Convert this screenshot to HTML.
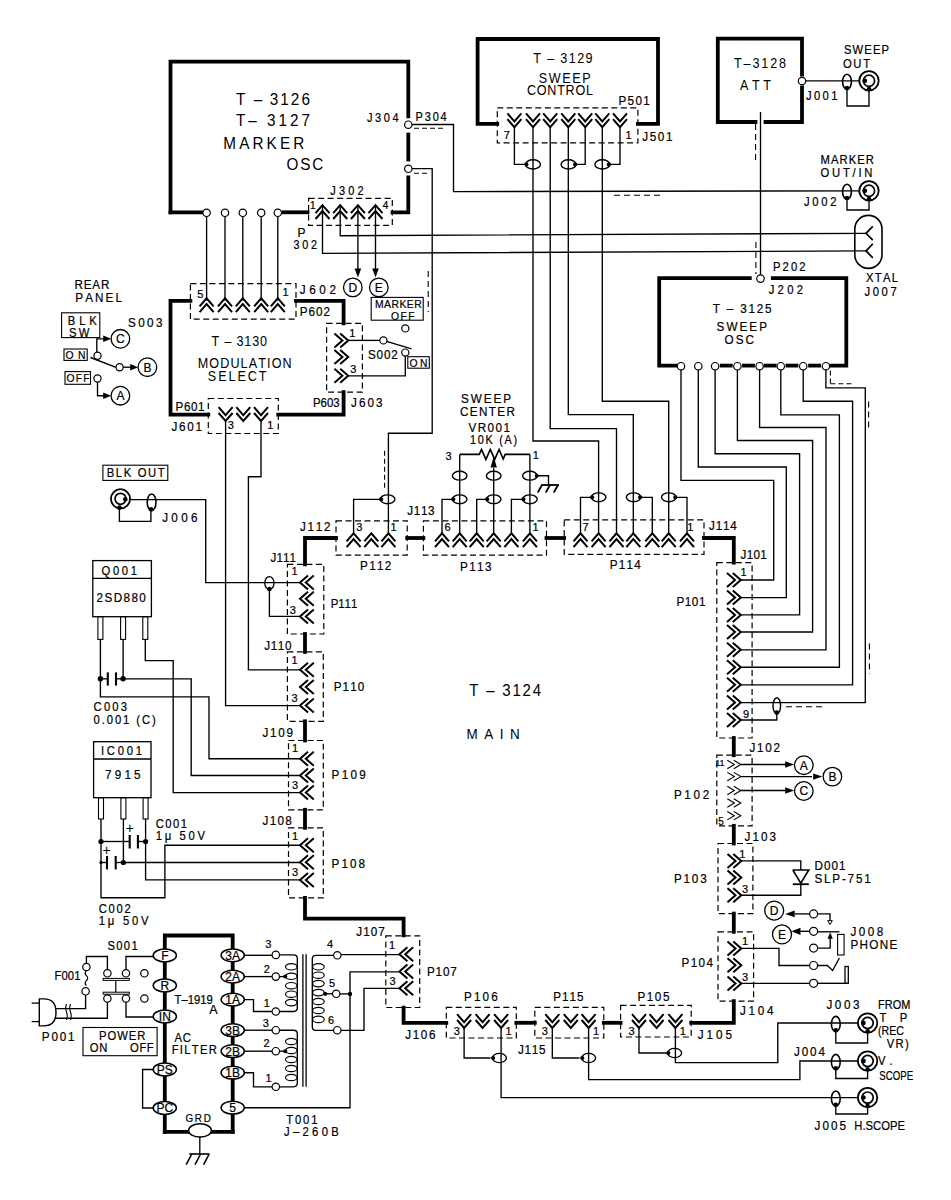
<!DOCTYPE html>
<html><head><meta charset="utf-8"><style>
html,body{margin:0;padding:0;background:#fff;}
svg{display:block;}
text{font-family:"Liberation Sans", sans-serif;fill:#000;stroke:#000;stroke-width:0.22px;}
</style></head><body>
<svg width="951" height="1200" viewBox="0 0 951 1200">
<rect x="0" y="0" width="951" height="1200" fill="#fff"/>
<polyline points="170.5,212.3 170.5,61.6 408.3,61.6 408.3,116.4" fill="none" stroke="#000" stroke-width="3.8" stroke-linecap="square" stroke-linejoin="miter"/>
<polyline points="408.3,134.5 408.3,159.5" fill="none" stroke="#000" stroke-width="3.8" stroke-linecap="square" stroke-linejoin="miter"/>
<polyline points="408.3,177.5 408.3,212.3 392.5,212.3" fill="none" stroke="#000" stroke-width="3.8" stroke-linecap="square" stroke-linejoin="miter"/>
<polyline points="170.5,212.3 202.5,212.3" fill="none" stroke="#000" stroke-width="3.8" stroke-linecap="square" stroke-linejoin="miter"/>
<polyline points="283.5,212.3 307.5,212.3" fill="none" stroke="#000" stroke-width="3.8" stroke-linecap="square" stroke-linejoin="miter"/>
<polyline points="206.6,212.3 206.6,300.5" fill="none" stroke="#000" stroke-width="1.35" stroke-linecap="butt" stroke-linejoin="miter"/>
<polyline points="225,212.3 225,300.5" fill="none" stroke="#000" stroke-width="1.35" stroke-linecap="butt" stroke-linejoin="miter"/>
<polyline points="242.8,212.3 242.8,300.5" fill="none" stroke="#000" stroke-width="1.35" stroke-linecap="butt" stroke-linejoin="miter"/>
<polyline points="261.2,212.3 261.2,300.5" fill="none" stroke="#000" stroke-width="1.35" stroke-linecap="butt" stroke-linejoin="miter"/>
<polyline points="277.8,212.3 277.8,300.5" fill="none" stroke="#000" stroke-width="1.35" stroke-linecap="butt" stroke-linejoin="miter"/>
<circle cx="206.6" cy="212.8" r="3.7" fill="#fff" stroke="#000" stroke-width="1.2"/>
<circle cx="225" cy="212.8" r="3.7" fill="#fff" stroke="#000" stroke-width="1.2"/>
<circle cx="242.8" cy="212.8" r="3.7" fill="#fff" stroke="#000" stroke-width="1.2"/>
<circle cx="261.2" cy="212.8" r="3.7" fill="#fff" stroke="#000" stroke-width="1.2"/>
<circle cx="277.8" cy="212.8" r="3.7" fill="#fff" stroke="#000" stroke-width="1.2"/>
<text transform="translate(0,104.72) scale(0.9000,1)" x="262.22 274.96 282.03 293.84 299.59 311.4 323.2 335.01" y="0" font-size="17" style="stroke:none">T – 3126</text>
<text transform="translate(0,126.12) scale(0.9000,1)" x="262.22 275.92 288.68 296.71 309.48 322.24 335.01" y="0" font-size="17" style="stroke:none">T– 3127</text>
<text transform="translate(0,148.92) scale(0.9000,1)" x="248.11 265.72 280.52 296.25 311.04 325.83" y="0" font-size="17" style="stroke:none">MARKER</text>
<text transform="translate(0,169.52) scale(0.9000,1)" x="318.44 333.69 347.05" y="0" font-size="17" style="stroke:none">OSC</text>
<text transform="translate(0,122.39) scale(0.9000,1)" x="407.78 416.73 426.37 436.01" y="0" font-size="12.2">J304</text>
<text transform="translate(0,120.79) scale(0.9000,1)" x="461.78 471.94 480.75 489.56" y="0" font-size="12.2">P304</text>
<circle cx="408.3" cy="124.7" r="3.7" fill="#fff" stroke="#000" stroke-width="1.2"/>
<circle cx="408.3" cy="168.8" r="3.7" fill="#fff" stroke="#000" stroke-width="1.2"/>
<polyline points="412,124.5 453.5,124.5 453.5,191.6 866,190.8" fill="none" stroke="#000" stroke-width="1.35" stroke-linecap="butt" stroke-linejoin="miter"/>
<polyline points="414,128.2 446,128.2" fill="none" stroke="#000" stroke-width="1.1" stroke-linecap="butt" stroke-linejoin="miter" stroke-dasharray="5 3"/>
<polyline points="412,168.6 432.2,168.6 432.2,433.2 388.4,433.2 388.4,500" fill="none" stroke="#000" stroke-width="1.35" stroke-linecap="butt" stroke-linejoin="miter"/>
<polyline points="414,173.2 430,173.2" fill="none" stroke="#000" stroke-width="1.1" stroke-linecap="butt" stroke-linejoin="miter" stroke-dasharray="5 3"/>
<polyline points="614,195.3 662,195.3" fill="none" stroke="#000" stroke-width="1.1" stroke-linecap="butt" stroke-linejoin="miter" stroke-dasharray="6 4"/>
<rect x="308.6" y="198.3" width="83.7" height="27.1" fill="none" stroke="#000" stroke-width="1.2" stroke-dasharray="6 3.5"/>
<text transform="translate(0,195.09) scale(0.9000,1)" x="367 376.66 387 397.34" y="0" font-size="12.2">J302</text>
<text x="312.8" y="209.1" font-size="10" text-anchor="middle">1</text>
<text x="385.5" y="209.1" font-size="10" text-anchor="middle">4</text>
<polyline points="315.5,213.2 322.5,205.2 329.5,213.2" fill="none" stroke="#000" stroke-width="2" stroke-linecap="butt" stroke-linejoin="miter"/>
<polyline points="315.5,219 322.5,211 329.5,219" fill="none" stroke="#000" stroke-width="2" stroke-linecap="butt" stroke-linejoin="miter"/>
<polyline points="333.2,213.2 340.2,205.2 347.2,213.2" fill="none" stroke="#000" stroke-width="2" stroke-linecap="butt" stroke-linejoin="miter"/>
<polyline points="333.2,219 340.2,211 347.2,219" fill="none" stroke="#000" stroke-width="2" stroke-linecap="butt" stroke-linejoin="miter"/>
<polyline points="350.9,213.2 357.9,205.2 364.9,213.2" fill="none" stroke="#000" stroke-width="2" stroke-linecap="butt" stroke-linejoin="miter"/>
<polyline points="350.9,219 357.9,211 364.9,219" fill="none" stroke="#000" stroke-width="2" stroke-linecap="butt" stroke-linejoin="miter"/>
<polyline points="368.5,213.2 375.5,205.2 382.5,213.2" fill="none" stroke="#000" stroke-width="2" stroke-linecap="butt" stroke-linejoin="miter"/>
<polyline points="368.5,219 375.5,211 382.5,219" fill="none" stroke="#000" stroke-width="2" stroke-linecap="butt" stroke-linejoin="miter"/>
<polyline points="322.5,205.2 322.5,253.4 866,250.9" fill="none" stroke="#000" stroke-width="1.35" stroke-linecap="butt" stroke-linejoin="miter"/>
<polyline points="340.2,205.2 340.2,235.7 866,233.3" fill="none" stroke="#000" stroke-width="1.35" stroke-linecap="butt" stroke-linejoin="miter"/>
<polyline points="357.9,205.2 357.9,270" fill="none" stroke="#000" stroke-width="1.35" stroke-linecap="butt" stroke-linejoin="miter"/>
<polyline points="375.5,205.2 375.5,270" fill="none" stroke="#000" stroke-width="1.35" stroke-linecap="butt" stroke-linejoin="miter"/>
<polygon points="357.9,277.5 354.6,268.5 361.2,268.5" fill="#000"/>
<polygon points="375.5,277.5 372.2,268.5 378.8,268.5" fill="#000"/>
<circle cx="352.8" cy="287.4" r="9.3" fill="#fff" stroke="#000" stroke-width="1.3"/>
<text x="352.8" y="291.72" font-size="12" text-anchor="middle">D</text>
<circle cx="378.8" cy="287.4" r="9.3" fill="#fff" stroke="#000" stroke-width="1.3"/>
<text x="378.8" y="291.72" font-size="12" text-anchor="middle">E</text>
<text x="301.55" y="237.32" font-size="12" text-anchor="middle">P</text>
<text transform="translate(0,249.32) scale(0.9000,1)" x="326.11 335.84 345.56" y="0" font-size="12">302</text>
<polyline points="497.3,123.8 477.6,123.8 477.6,39 658,39 658,123.8 637.9,123.8" fill="none" stroke="#000" stroke-width="3.8" stroke-linecap="square" stroke-linejoin="miter"/>
<text transform="translate(0,62.94) scale(0.9000,1)" x="592.44 602.52 607.93 617.23 622.64 631.95 641.26 650.56" y="0" font-size="14" style="stroke:none">T – 3129</text>
<text transform="translate(0,82.54) scale(0.9000,1)" x="598.56 609.69 624.71 635.85 646.99" y="0" font-size="14" style="stroke:none">SWEEP</text>
<text transform="translate(0,95.24) scale(0.9000,1)" x="585.44 596.39 608.12 619.06 628.45 639.39 651.12" y="0" font-size="14" style="stroke:none">CONTROL</text>
<text transform="translate(0,105.38) scale(0.9000,1)" x="687.22 697.37 706.08 714.78" y="0" font-size="13">P501</text>
<text transform="translate(0,140.68) scale(0.9000,1)" x="713.56 721.89 730.95 740.01" y="0" font-size="13">J501</text>
<rect x="497.3" y="107.8" width="140.6" height="35.1" fill="none" stroke="#000" stroke-width="1.2" stroke-dasharray="6 3.5"/>
<text x="506.7" y="138.76" font-size="11" text-anchor="middle">7</text>
<text x="628.6" y="138.76" font-size="11" text-anchor="middle">1</text>
<polyline points="507.4,113.4 514.4,121.4 521.4,113.4" fill="none" stroke="#000" stroke-width="2" stroke-linecap="butt" stroke-linejoin="miter"/>
<polyline points="507.4,119.2 514.4,127.2 521.4,119.2" fill="none" stroke="#000" stroke-width="2" stroke-linecap="butt" stroke-linejoin="miter"/>
<polyline points="526,113.4 533,121.4 540,113.4" fill="none" stroke="#000" stroke-width="2" stroke-linecap="butt" stroke-linejoin="miter"/>
<polyline points="526,119.2 533,127.2 540,119.2" fill="none" stroke="#000" stroke-width="2" stroke-linecap="butt" stroke-linejoin="miter"/>
<polyline points="543.2,113.4 550.2,121.4 557.2,113.4" fill="none" stroke="#000" stroke-width="2" stroke-linecap="butt" stroke-linejoin="miter"/>
<polyline points="543.2,119.2 550.2,127.2 557.2,119.2" fill="none" stroke="#000" stroke-width="2" stroke-linecap="butt" stroke-linejoin="miter"/>
<polyline points="561.3,113.4 568.3,121.4 575.3,113.4" fill="none" stroke="#000" stroke-width="2" stroke-linecap="butt" stroke-linejoin="miter"/>
<polyline points="561.3,119.2 568.3,127.2 575.3,119.2" fill="none" stroke="#000" stroke-width="2" stroke-linecap="butt" stroke-linejoin="miter"/>
<polyline points="578.2,113.4 585.2,121.4 592.2,113.4" fill="none" stroke="#000" stroke-width="2" stroke-linecap="butt" stroke-linejoin="miter"/>
<polyline points="578.2,119.2 585.2,127.2 592.2,119.2" fill="none" stroke="#000" stroke-width="2" stroke-linecap="butt" stroke-linejoin="miter"/>
<polyline points="595.3,113.4 602.3,121.4 609.3,113.4" fill="none" stroke="#000" stroke-width="2" stroke-linecap="butt" stroke-linejoin="miter"/>
<polyline points="595.3,119.2 602.3,127.2 609.3,119.2" fill="none" stroke="#000" stroke-width="2" stroke-linecap="butt" stroke-linejoin="miter"/>
<polyline points="613,113.4 620,121.4 627,113.4" fill="none" stroke="#000" stroke-width="2" stroke-linecap="butt" stroke-linejoin="miter"/>
<polyline points="613,119.2 620,127.2 627,119.2" fill="none" stroke="#000" stroke-width="2" stroke-linecap="butt" stroke-linejoin="miter"/>
<polyline points="514.4,126 514.4,164.4 527,164.4" fill="none" stroke="#000" stroke-width="1.35" stroke-linecap="butt" stroke-linejoin="miter"/>
<polyline points="585.2,126 585.2,164.4 575.5,164.4" fill="none" stroke="#000" stroke-width="1.35" stroke-linecap="butt" stroke-linejoin="miter"/>
<polyline points="620,126 620,164.4 609.5,164.4" fill="none" stroke="#000" stroke-width="1.35" stroke-linecap="butt" stroke-linejoin="miter"/>
<polyline points="533,126 533,441 598.6,441 598.6,533" fill="none" stroke="#000" stroke-width="1.35" stroke-linecap="butt" stroke-linejoin="miter"/>
<polyline points="550.2,126 550.2,428.6 616.5,428.6 616.5,533" fill="none" stroke="#000" stroke-width="1.35" stroke-linecap="butt" stroke-linejoin="miter"/>
<polyline points="568.3,126 568.3,414.6 633.3,414.6 633.3,533" fill="none" stroke="#000" stroke-width="1.35" stroke-linecap="butt" stroke-linejoin="miter"/>
<polyline points="602.3,126 602.3,401.2 668.7,401.2 668.7,533" fill="none" stroke="#000" stroke-width="1.35" stroke-linecap="butt" stroke-linejoin="miter"/>
<ellipse cx="533" cy="164.4" rx="7.4" ry="4.6" fill="none" stroke="#000" stroke-width="1.4"/>
<circle cx="526.4" cy="164.4" r="2.1" fill="#000"/>
<ellipse cx="568.5" cy="164.4" rx="7.4" ry="4.6" fill="none" stroke="#000" stroke-width="1.4"/>
<circle cx="575.1" cy="164.4" r="2.1" fill="#000"/>
<ellipse cx="602.3" cy="164.4" rx="7.4" ry="4.6" fill="none" stroke="#000" stroke-width="1.4"/>
<circle cx="608.9" cy="164.4" r="2.1" fill="#000"/>
<polyline points="755.5,122 717.8,122 717.8,38.6 802,38.6 802,74.5" fill="none" stroke="#000" stroke-width="3.8" stroke-linecap="square" stroke-linejoin="miter"/>
<polyline points="802,87.5 802,122 765.5,122" fill="none" stroke="#000" stroke-width="3.8" stroke-linecap="square" stroke-linejoin="miter"/>
<text transform="translate(0,68.44) scale(0.9000,1)" x="815.56 826.17 836.02 845.87 855.71 865.56" y="0" font-size="14" style="stroke:none">T–3128</text>
<text transform="translate(0,89.64) scale(0.9000,1)" x="822.22 835.57 848.13" y="0" font-size="14" style="stroke:none">ATT</text>
<circle cx="802" cy="81" r="3.7" fill="#fff" stroke="#000" stroke-width="1.2"/>
<polyline points="805.7,80.8 865,80.8" fill="none" stroke="#000" stroke-width="1.35" stroke-linecap="butt" stroke-linejoin="miter"/>
<circle cx="869" cy="80.8" r="9.7" fill="#fff" stroke="#000" stroke-width="1.8"/>
<circle cx="869" cy="80.8" r="5.6" fill="#fff" stroke="#000" stroke-width="1.7"/>
<circle cx="864.8" cy="80.8" r="2.4" fill="#000"/>
<ellipse cx="847" cy="81.8" rx="4.4" ry="7.6" fill="none" stroke="#000" stroke-width="1.6"/>
<polyline points="847,89.4 847,106 869,106 869,90.5" fill="none" stroke="#000" stroke-width="1.35" stroke-linecap="butt" stroke-linejoin="miter"/>
<circle cx="847" cy="88" r="2.3" fill="#000"/>
<circle cx="869" cy="89" r="2.3" fill="#000"/>
<text transform="translate(0,99.5) scale(0.9000,1)" x="895.56 904.44 914.03 923.62" y="0" font-size="12.5">J001</text>
<text transform="translate(0,54.3) scale(0.9000,1)" x="937.78 947.33 960.34 969.89 979.43" y="0" font-size="12.5">SWEEP</text>
<text transform="translate(0,67.9) scale(0.9000,1)" x="936.67 948.2 959.04" y="0" font-size="12.5">OUT</text>
<polyline points="760.5,112 760.5,274.9" fill="none" stroke="#000" stroke-width="1.35" stroke-linecap="butt" stroke-linejoin="miter"/>
<polyline points="755.6,124 755.6,160" fill="none" stroke="#000" stroke-width="1.1" stroke-linecap="butt" stroke-linejoin="miter" stroke-dasharray="6 4"/>
<polyline points="755.9,242 755.9,274" fill="none" stroke="#000" stroke-width="1.1" stroke-linecap="butt" stroke-linejoin="miter" stroke-dasharray="6 4"/>
<circle cx="869" cy="190.8" r="9.7" fill="#fff" stroke="#000" stroke-width="1.8"/>
<circle cx="869" cy="190.8" r="5.6" fill="#fff" stroke="#000" stroke-width="1.7"/>
<circle cx="864.8" cy="190.8" r="2.4" fill="#000"/>
<ellipse cx="847" cy="191.8" rx="4.4" ry="7.6" fill="none" stroke="#000" stroke-width="1.6"/>
<polyline points="847,199.4 847,210 869,210 869,200.5" fill="none" stroke="#000" stroke-width="1.35" stroke-linecap="butt" stroke-linejoin="miter"/>
<circle cx="847" cy="198" r="2.3" fill="#000"/>
<circle cx="869" cy="199" r="2.3" fill="#000"/>
<text transform="translate(0,163.5) scale(0.9000,1)" x="911.78 923.36 932.87 943.07 952.57 962.08" y="0" font-size="12.5">MARKER</text>
<text transform="translate(0,177.2) scale(0.9000,1)" x="911.78 924.54 936.6 947.28 953.79 960.3" y="0" font-size="12.5">OUT/IN</text>
<text transform="translate(0,205.7) scale(0.9000,1)" x="893.33 902.55 912.47 922.4" y="0" font-size="12.5">J002</text>
<rect x="854.8" y="215.4" width="27.2" height="53" rx="13.6" ry="13.6" fill="none" stroke="#000" stroke-width="1.6"/>
<polyline points="872.8,226.3 866,233.3 872.8,240.2" fill="none" stroke="#000" stroke-width="1.7" stroke-linecap="butt" stroke-linejoin="miter"/>
<polyline points="872.8,243.9 866,250.9 872.8,257.8" fill="none" stroke="#000" stroke-width="1.7" stroke-linecap="butt" stroke-linejoin="miter"/>
<text transform="translate(0,281.5) scale(0.9000,1)" x="962.22 972 981.07 990.84" y="0" font-size="12.5">XTAL</text>
<text transform="translate(0,295.8) scale(0.9000,1)" x="960.44 969.66 979.59 989.51" y="0" font-size="12.5">J007</text>
<polyline points="749.8,278.2 659.2,278.2 659.2,365.6 677,365.6" fill="none" stroke="#000" stroke-width="3.8" stroke-linecap="square" stroke-linejoin="miter"/>
<polyline points="772.8,278.2 846.3,278.2 846.3,365.6 829.8,365.6" fill="none" stroke="#000" stroke-width="3.8" stroke-linecap="square" stroke-linejoin="miter"/>
<polyline points="721.75,365.6 730.75,365.6" fill="none" stroke="#000" stroke-width="3.8" stroke-linecap="square" stroke-linejoin="miter"/>
<polyline points="744,365.6 753,365.6" fill="none" stroke="#000" stroke-width="3.8" stroke-linecap="square" stroke-linejoin="miter"/>
<polyline points="765.7,365.6 774.7,365.6" fill="none" stroke="#000" stroke-width="3.8" stroke-linecap="square" stroke-linejoin="miter"/>
<polyline points="787.5,365.6 796.5,365.6" fill="none" stroke="#000" stroke-width="3.8" stroke-linecap="square" stroke-linejoin="miter"/>
<polyline points="810.05,365.6 819.05,365.6" fill="none" stroke="#000" stroke-width="3.8" stroke-linecap="square" stroke-linejoin="miter"/>
<circle cx="760.5" cy="278.6" r="3.8" fill="#fff" stroke="#000" stroke-width="1.2"/>
<text transform="translate(0,313.38) scale(0.9000,1)" x="792 801.95 807.56 816.8 822.41 831.65 840.88 850.12" y="0" font-size="13">T – 3125</text>
<text transform="translate(0,330.98) scale(0.9000,1)" x="796.22 807.15 821.68 832.61 843.54" y="0" font-size="13">SWEEP</text>
<text transform="translate(0,343.68) scale(0.9000,1)" x="805 817.41 828.39" y="0" font-size="13">OSC</text>
<text transform="translate(0,271.4) scale(0.9000,1)" x="858.89 869.54 878.8 888.06" y="0" font-size="12.5">P202</text>
<text transform="translate(0,294.3) scale(0.9000,1)" x="854.11 864.03 874.66 885.28" y="0" font-size="12.5">J202</text>
<polyline points="681,369.3 681,480.3 773.7,480.3 773.7,580 740.8,580" fill="none" stroke="#000" stroke-width="1.35" stroke-linecap="butt" stroke-linejoin="miter"/>
<polyline points="698.3,369.3 698.3,467 786.3,467 786.3,597.6 740.8,597.6" fill="none" stroke="#000" stroke-width="1.35" stroke-linecap="butt" stroke-linejoin="miter"/>
<polyline points="715.1,369.3 715.1,453.7 799.6,453.7 799.6,614.9 740.8,614.9" fill="none" stroke="#000" stroke-width="1.35" stroke-linecap="butt" stroke-linejoin="miter"/>
<polyline points="737.4,369.3 737.4,440.5 812.6,440.5 812.6,632 740.8,632" fill="none" stroke="#000" stroke-width="1.35" stroke-linecap="butt" stroke-linejoin="miter"/>
<polyline points="759.6,369.3 759.6,427.5 826,427.5 826,649.8 740.8,649.8" fill="none" stroke="#000" stroke-width="1.35" stroke-linecap="butt" stroke-linejoin="miter"/>
<polyline points="780.8,369.3 780.8,414.8 839.4,414.8 839.4,667.2 740.8,667.2" fill="none" stroke="#000" stroke-width="1.35" stroke-linecap="butt" stroke-linejoin="miter"/>
<polyline points="803.2,369.3 803.2,401.2 852.6,401.2 852.6,684.8 740.8,684.8" fill="none" stroke="#000" stroke-width="1.35" stroke-linecap="butt" stroke-linejoin="miter"/>
<polyline points="825.9,369.3 825.9,387.8 865.3,387.8 865.3,702.6 740.8,702.6" fill="none" stroke="#000" stroke-width="1.35" stroke-linecap="butt" stroke-linejoin="miter"/>
<circle cx="681" cy="366.2" r="3.7" fill="#fff" stroke="#000" stroke-width="1.2"/>
<circle cx="698.3" cy="366.2" r="3.7" fill="#fff" stroke="#000" stroke-width="1.2"/>
<circle cx="715.1" cy="366.2" r="3.7" fill="#fff" stroke="#000" stroke-width="1.2"/>
<circle cx="737.4" cy="366.2" r="3.7" fill="#fff" stroke="#000" stroke-width="1.2"/>
<circle cx="759.6" cy="366.2" r="3.7" fill="#fff" stroke="#000" stroke-width="1.2"/>
<circle cx="780.8" cy="366.2" r="3.7" fill="#fff" stroke="#000" stroke-width="1.2"/>
<circle cx="803.2" cy="366.2" r="3.7" fill="#fff" stroke="#000" stroke-width="1.2"/>
<circle cx="825.9" cy="366.2" r="3.7" fill="#fff" stroke="#000" stroke-width="1.2"/>
<polyline points="830.4,370.5 830.4,383.8" fill="none" stroke="#000" stroke-width="1.1" stroke-linecap="butt" stroke-linejoin="miter" stroke-dasharray="5 3"/>
<polyline points="830.4,383.8 852.3,383.8" fill="none" stroke="#000" stroke-width="1.1" stroke-linecap="butt" stroke-linejoin="miter" stroke-dasharray="5 3"/>
<polyline points="868.6,401.5 868.6,431" fill="none" stroke="#000" stroke-width="1.1" stroke-linecap="butt" stroke-linejoin="miter" stroke-dasharray="6 4"/>
<polyline points="869.4,643.5 869.4,674" fill="none" stroke="#000" stroke-width="1.1" stroke-linecap="butt" stroke-linejoin="miter" stroke-dasharray="6 4"/>
<polyline points="786,706.8 822,706.8" fill="none" stroke="#000" stroke-width="1.1" stroke-linecap="butt" stroke-linejoin="miter" stroke-dasharray="6 4"/>
<polyline points="190.4,300.9 170.5,300.9 170.5,414.6 208.3,414.6" fill="none" stroke="#000" stroke-width="3.8" stroke-linecap="square" stroke-linejoin="miter"/>
<polyline points="278.3,414.6 343.6,414.6 343.6,392.2" fill="none" stroke="#000" stroke-width="3.8" stroke-linecap="square" stroke-linejoin="miter"/>
<polyline points="296,300.9 343.6,300.9 343.6,323.3" fill="none" stroke="#000" stroke-width="3.8" stroke-linecap="square" stroke-linejoin="miter"/>
<rect x="190.4" y="283.6" width="105.6" height="35.6" fill="none" stroke="#000" stroke-width="1.2" stroke-dasharray="6 3.5"/>
<polyline points="199.6,306.3 206.6,298.3 213.6,306.3" fill="none" stroke="#000" stroke-width="2" stroke-linecap="butt" stroke-linejoin="miter"/>
<polyline points="199.6,312.1 206.6,304.1 213.6,312.1" fill="none" stroke="#000" stroke-width="2" stroke-linecap="butt" stroke-linejoin="miter"/>
<polyline points="218,306.3 225,298.3 232,306.3" fill="none" stroke="#000" stroke-width="2" stroke-linecap="butt" stroke-linejoin="miter"/>
<polyline points="218,312.1 225,304.1 232,312.1" fill="none" stroke="#000" stroke-width="2" stroke-linecap="butt" stroke-linejoin="miter"/>
<polyline points="235.8,306.3 242.8,298.3 249.8,306.3" fill="none" stroke="#000" stroke-width="2" stroke-linecap="butt" stroke-linejoin="miter"/>
<polyline points="235.8,312.1 242.8,304.1 249.8,312.1" fill="none" stroke="#000" stroke-width="2" stroke-linecap="butt" stroke-linejoin="miter"/>
<polyline points="254.2,306.3 261.2,298.3 268.2,306.3" fill="none" stroke="#000" stroke-width="2" stroke-linecap="butt" stroke-linejoin="miter"/>
<polyline points="254.2,312.1 261.2,304.1 268.2,312.1" fill="none" stroke="#000" stroke-width="2" stroke-linecap="butt" stroke-linejoin="miter"/>
<polyline points="270.8,306.3 277.8,298.3 284.8,306.3" fill="none" stroke="#000" stroke-width="2" stroke-linecap="butt" stroke-linejoin="miter"/>
<polyline points="270.8,312.1 277.8,304.1 284.8,312.1" fill="none" stroke="#000" stroke-width="2" stroke-linecap="butt" stroke-linejoin="miter"/>
<text x="200.2" y="297.56" font-size="11" text-anchor="middle">5</text>
<text x="285.6" y="296.46" font-size="11" text-anchor="middle">1</text>
<text transform="translate(0,294.48) scale(0.9000,1)" x="333.11 343.63 354.87 366.12" y="0" font-size="13">J602</text>
<text transform="translate(0,315.68) scale(0.9000,1)" x="333.11 342.85 351.15 359.45" y="0" font-size="13">P602</text>
<text transform="translate(0,346.34) scale(0.9000,1)" x="235.11 244.56 249.36 258.04 262.83 271.52 280.21 288.9" y="0" font-size="14" style="stroke:none">T – 3130</text>
<text transform="translate(0,367.84) scale(0.9000,1)" x="219.67 232.56 244.69 256.03 267.37 276.39 286.96 296.75 301.87 314" y="0" font-size="14" style="stroke:none">MODULATION</text>
<text transform="translate(0,381.04) scale(0.9000,1)" x="230.89 242.38 253.87 263.81 275.31 287.57" y="0" font-size="14" style="stroke:none">SELECT</text>
<text transform="translate(0,410.68) scale(0.9000,1)" x="195 204.33 212.23 220.12" y="0" font-size="13">P601</text>
<text transform="translate(0,430.98) scale(0.9000,1)" x="190.44 198.89 208.06 217.23" y="0" font-size="13">J601</text>
<rect x="208.3" y="398.5" width="70" height="35" fill="none" stroke="#000" stroke-width="1.2" stroke-dasharray="6 3.5"/>
<polyline points="218.6,407.2 225.6,415.2 232.6,407.2" fill="none" stroke="#000" stroke-width="2" stroke-linecap="butt" stroke-linejoin="miter"/>
<polyline points="218.6,413 225.6,421 232.6,413" fill="none" stroke="#000" stroke-width="2" stroke-linecap="butt" stroke-linejoin="miter"/>
<polyline points="236.3,407.2 243.3,415.2 250.3,407.2" fill="none" stroke="#000" stroke-width="2" stroke-linecap="butt" stroke-linejoin="miter"/>
<polyline points="236.3,413 243.3,421 250.3,413" fill="none" stroke="#000" stroke-width="2" stroke-linecap="butt" stroke-linejoin="miter"/>
<polyline points="254,407.2 261,415.2 268,407.2" fill="none" stroke="#000" stroke-width="2" stroke-linecap="butt" stroke-linejoin="miter"/>
<polyline points="254,413 261,421 268,413" fill="none" stroke="#000" stroke-width="2" stroke-linecap="butt" stroke-linejoin="miter"/>
<text x="230.9" y="429.36" font-size="11" text-anchor="middle">3</text>
<text x="270.2" y="429.36" font-size="11" text-anchor="middle">1</text>
<polyline points="225.6,420 225.6,705.6 300,705.6" fill="none" stroke="#000" stroke-width="1.35" stroke-linecap="butt" stroke-linejoin="miter"/>
<polyline points="261,420 261,476.7 248.4,476.7 248.4,669.8 300,669.8" fill="none" stroke="#000" stroke-width="1.35" stroke-linecap="butt" stroke-linejoin="miter"/>
<rect x="326.6" y="323.3" width="35.8" height="68.9" fill="none" stroke="#000" stroke-width="1.2" stroke-dasharray="6 3.5"/>
<polyline points="340.2,333.4 348.2,340.4 340.2,347.4" fill="none" stroke="#000" stroke-width="2" stroke-linecap="butt" stroke-linejoin="miter"/>
<polyline points="334.4,333.4 342.4,340.4 334.4,347.4" fill="none" stroke="#000" stroke-width="2" stroke-linecap="butt" stroke-linejoin="miter"/>
<polyline points="340.2,350 348.2,357 340.2,364" fill="none" stroke="#000" stroke-width="2" stroke-linecap="butt" stroke-linejoin="miter"/>
<polyline points="334.4,350 342.4,357 334.4,364" fill="none" stroke="#000" stroke-width="2" stroke-linecap="butt" stroke-linejoin="miter"/>
<polyline points="340.2,368.8 348.2,375.8 340.2,382.8" fill="none" stroke="#000" stroke-width="2" stroke-linecap="butt" stroke-linejoin="miter"/>
<polyline points="334.4,368.8 342.4,375.8 334.4,382.8" fill="none" stroke="#000" stroke-width="2" stroke-linecap="butt" stroke-linejoin="miter"/>
<text x="352.4" y="336.66" font-size="11" text-anchor="middle">1</text>
<text x="353.2" y="373.46" font-size="11" text-anchor="middle">3</text>
<text transform="translate(0,406.68) scale(0.8798,1)" x="355.75 364.42 371.65 378.88" y="0" font-size="13">P603</text>
<text transform="translate(0,406.68) scale(0.9000,1)" x="390 398.81 408.35 417.9" y="0" font-size="13">J603</text>
<polyline points="348.2,340.4 380,340.4" fill="none" stroke="#000" stroke-width="1.35" stroke-linecap="butt" stroke-linejoin="miter"/>
<circle cx="383.4" cy="340.4" r="3.6" fill="#fff" stroke="#000" stroke-width="1.2"/>
<polyline points="386.5,341.3 411.6,348.8" fill="none" stroke="#000" stroke-width="1.4" stroke-linecap="butt" stroke-linejoin="miter"/>
<circle cx="405.3" cy="328.4" r="3.6" fill="#fff" stroke="#000" stroke-width="1.2"/>
<circle cx="405.3" cy="352.6" r="3.6" fill="#fff" stroke="#000" stroke-width="1.2"/>
<polyline points="405.3,356.2 405.3,375.8 348.2,375.8" fill="none" stroke="#000" stroke-width="1.35" stroke-linecap="butt" stroke-linejoin="miter"/>
<text transform="translate(0,358.68) scale(0.9000,1)" x="408.89 418.44 426.56 434.67" y="0" font-size="13">S002</text>
<rect x="407.8" y="356.7" width="21.5" height="11.5" fill="none" stroke="#000" stroke-width="1.1"/>
<text transform="translate(0,366.54) scale(0.9000,1)" x="455 466.69" y="0" font-size="11.5">ON</text>
<rect x="371.2" y="297.4" width="52" height="22.8" fill="none" stroke="#000" stroke-width="1.1"/>
<text transform="translate(0,307.84) scale(0.9000,1)" x="416.67 426.78 434.99 443.83 452.04 460.25" y="0" font-size="11.5">MARKER</text>
<text transform="translate(0,319.64) scale(0.9000,1)" x="434.44 444.95 453.54" y="0" font-size="11.5">OFF</text>
<polyline points="428.2,271 428.2,312" fill="none" stroke="#000" stroke-width="1.1" stroke-linecap="butt" stroke-linejoin="miter" stroke-dasharray="6 4"/>
<text transform="translate(0,288.68) scale(0.9000,1)" x="82.89 93.13 102.64 112.16" y="0" font-size="13">REAR</text>
<text transform="translate(0,301.68) scale(0.9000,1)" x="83.67 94.66 105.64 117.35 128.34" y="0" font-size="13">PANEL</text>
<rect x="61.6" y="312.8" width="38.2" height="24.8" fill="none" stroke="#000" stroke-width="1.1"/>
<text transform="translate(0,324.7) scale(0.9000,1)" x="75.33 87.97 99.21" y="0" font-size="12.5">BLK</text>
<text transform="translate(0,337.1) scale(0.9000,1)" x="76.67 87.63" y="0" font-size="12.5">SW</text>
<text transform="translate(0,327.08) scale(0.9000,1)" x="142.22 153.52 163.37 173.23" y="0" font-size="13">S003</text>
<rect x="64" y="349" width="23.2" height="11.4" fill="none" stroke="#000" stroke-width="1.1"/>
<text transform="translate(0,358.84) scale(0.9000,1)" x="72.78 86.58" y="0" font-size="11.5">ON</text>
<rect x="65" y="371.6" width="25.5" height="12.7" fill="none" stroke="#000" stroke-width="1.1"/>
<text transform="translate(0,382.14) scale(0.9000,1)" x="73.89 84.12 92.43" y="0" font-size="11.5">OFF</text>
<polyline points="96.8,352.2 96.8,338.8 104,338.8" fill="none" stroke="#000" stroke-width="1.35" stroke-linecap="butt" stroke-linejoin="miter"/>
<polygon points="111.2,338.8 103.2,335.6 103.2,342" fill="#000"/>
<circle cx="120.4" cy="338.8" r="9.3" fill="#fff" stroke="#000" stroke-width="1.3"/>
<text x="120.4" y="343.12" font-size="12" text-anchor="middle">C</text>
<circle cx="97.5" cy="355.7" r="3.6" fill="#fff" stroke="#000" stroke-width="1.2"/>
<polyline points="90.5,357.5 116,367.3" fill="none" stroke="#000" stroke-width="1.4" stroke-linecap="butt" stroke-linejoin="miter"/>
<circle cx="119.6" cy="367.2" r="3.6" fill="#fff" stroke="#000" stroke-width="1.2"/>
<polyline points="123,367.2 131,367.2" fill="none" stroke="#000" stroke-width="1.35" stroke-linecap="butt" stroke-linejoin="miter"/>
<polygon points="138.2,367.2 130.2,364 130.2,370.4" fill="#000"/>
<circle cx="147.4" cy="367.2" r="9.3" fill="#fff" stroke="#000" stroke-width="1.3"/>
<text x="147.4" y="371.52" font-size="12" text-anchor="middle">B</text>
<circle cx="97.5" cy="378.5" r="3.6" fill="#fff" stroke="#000" stroke-width="1.2"/>
<polyline points="97.5,382 97.5,395.7 104,395.7" fill="none" stroke="#000" stroke-width="1.35" stroke-linecap="butt" stroke-linejoin="miter"/>
<polygon points="111.2,395.7 103.2,392.5 103.2,398.9" fill="#000"/>
<circle cx="120.4" cy="395.7" r="9.3" fill="#fff" stroke="#000" stroke-width="1.3"/>
<text x="120.4" y="400.02" font-size="12" text-anchor="middle">A</text>
<text transform="translate(0,403.28) scale(0.9000,1)" x="512.22 523.04 537.46 548.28 559.1" y="0" font-size="13">SWEEP</text>
<text transform="translate(0,416.48) scale(0.9000,1)" x="511.11 522.03 532.23 543.15 552.63 562.83" y="0" font-size="13">CENTER</text>
<text transform="translate(0,431.68) scale(0.9000,1)" x="520.56 530.82 541.8 550.63 559.45" y="0" font-size="13">VR001</text>
<text transform="translate(0,443.82) scale(0.9000,1)" x="522.22 530.82 539.42 549.35 554.61 560.53 570.45" y="0" font-size="12">10K (A)</text>
<text x="448.6" y="460.36" font-size="11" text-anchor="middle">3</text>
<text x="535.8" y="459.36" font-size="11" text-anchor="middle">1</text>
<polyline points="459.7,454.4 479.3,454.4 481.5,449.4 485.9,459.4 490.3,449.4 494.7,459.4 499.1,449.4 503.2,459 505.2,454.4 529.9,454.4" fill="none" stroke="#000" stroke-width="1.6" stroke-linecap="butt" stroke-linejoin="miter"/>
<polygon points="493.7,456.5 490.5,467.5 496.9,467.5" fill="#000"/>
<polyline points="305,564.4 305,538 336,538" fill="none" stroke="#000" stroke-width="3.8" stroke-linecap="square" stroke-linejoin="miter"/>
<polyline points="407.2,538 423.4,538" fill="none" stroke="#000" stroke-width="3.8" stroke-linecap="square" stroke-linejoin="miter"/>
<polyline points="546.5,538 564.2,538" fill="none" stroke="#000" stroke-width="3.8" stroke-linecap="square" stroke-linejoin="miter"/>
<polyline points="704,538 733.8,538 733.8,562.7" fill="none" stroke="#000" stroke-width="3.8" stroke-linecap="square" stroke-linejoin="miter"/>
<polyline points="733.8,738 733.8,755.2" fill="none" stroke="#000" stroke-width="3.8" stroke-linecap="square" stroke-linejoin="miter"/>
<polyline points="733.8,825.8 733.8,843.5" fill="none" stroke="#000" stroke-width="3.8" stroke-linecap="square" stroke-linejoin="miter"/>
<polyline points="733.8,913.6 733.8,931.8" fill="none" stroke="#000" stroke-width="3.8" stroke-linecap="square" stroke-linejoin="miter"/>
<polyline points="733.8,1001.2 733.8,1022.8 691.2,1022.8" fill="none" stroke="#000" stroke-width="3.8" stroke-linecap="square" stroke-linejoin="miter"/>
<polyline points="603.8,1022.8 620.6,1022.8" fill="none" stroke="#000" stroke-width="3.8" stroke-linecap="square" stroke-linejoin="miter"/>
<polyline points="516.3,1022.8 534.8,1022.8" fill="none" stroke="#000" stroke-width="3.8" stroke-linecap="square" stroke-linejoin="miter"/>
<polyline points="446.3,1022.8 403.6,1022.8 403.6,1007.7" fill="none" stroke="#000" stroke-width="3.8" stroke-linecap="square" stroke-linejoin="miter"/>
<polyline points="403.6,935.3 403.6,918.6 305,918.6 305,897.8" fill="none" stroke="#000" stroke-width="3.8" stroke-linecap="square" stroke-linejoin="miter"/>
<polyline points="305,809.8 305,827.8" fill="none" stroke="#000" stroke-width="3.8" stroke-linecap="square" stroke-linejoin="miter"/>
<polyline points="305,721.3 305,740.5" fill="none" stroke="#000" stroke-width="3.8" stroke-linecap="square" stroke-linejoin="miter"/>
<polyline points="305,634 305,651.9" fill="none" stroke="#000" stroke-width="3.8" stroke-linecap="square" stroke-linejoin="miter"/>
<text transform="translate(0,696.01) scale(0.9000,1)" x="521.44 533.61 540.22 551.47 558.08 569.33 580.59 591.84" y="0" font-size="16.7" style="stroke:none">T – 3124</text>
<text transform="translate(0,739.4) scale(0.9000,1)" x="518.33 538.03 555.24 566.61" y="0" font-size="15" style="stroke:none">MAIN</text>
<rect x="336" y="520.8" width="71.2" height="34.4" fill="none" stroke="#000" stroke-width="1.2" stroke-dasharray="6 3.5"/>
<rect x="423.4" y="520.8" width="123.1" height="34.4" fill="none" stroke="#000" stroke-width="1.2" stroke-dasharray="6 3.5"/>
<rect x="564.2" y="519.8" width="139.8" height="34.5" fill="none" stroke="#000" stroke-width="1.2" stroke-dasharray="6 3.5"/>
<polyline points="346.6,541.3 353.6,533.3 360.6,541.3" fill="none" stroke="#000" stroke-width="2" stroke-linecap="butt" stroke-linejoin="miter"/>
<polyline points="346.6,547.1 353.6,539.1 360.6,547.1" fill="none" stroke="#000" stroke-width="2" stroke-linecap="butt" stroke-linejoin="miter"/>
<polyline points="364.3,541.3 371.3,533.3 378.3,541.3" fill="none" stroke="#000" stroke-width="2" stroke-linecap="butt" stroke-linejoin="miter"/>
<polyline points="364.3,547.1 371.3,539.1 378.3,547.1" fill="none" stroke="#000" stroke-width="2" stroke-linecap="butt" stroke-linejoin="miter"/>
<polyline points="381.4,541.3 388.4,533.3 395.4,541.3" fill="none" stroke="#000" stroke-width="2" stroke-linecap="butt" stroke-linejoin="miter"/>
<polyline points="381.4,547.1 388.4,539.1 395.4,547.1" fill="none" stroke="#000" stroke-width="2" stroke-linecap="butt" stroke-linejoin="miter"/>
<polyline points="435,541.3 442,533.3 449,541.3" fill="none" stroke="#000" stroke-width="2" stroke-linecap="butt" stroke-linejoin="miter"/>
<polyline points="435,547.1 442,539.1 449,547.1" fill="none" stroke="#000" stroke-width="2" stroke-linecap="butt" stroke-linejoin="miter"/>
<polyline points="452.7,541.3 459.7,533.3 466.7,541.3" fill="none" stroke="#000" stroke-width="2" stroke-linecap="butt" stroke-linejoin="miter"/>
<polyline points="452.7,547.1 459.7,539.1 466.7,547.1" fill="none" stroke="#000" stroke-width="2" stroke-linecap="butt" stroke-linejoin="miter"/>
<polyline points="469.7,541.3 476.7,533.3 483.7,541.3" fill="none" stroke="#000" stroke-width="2" stroke-linecap="butt" stroke-linejoin="miter"/>
<polyline points="469.7,547.1 476.7,539.1 483.7,547.1" fill="none" stroke="#000" stroke-width="2" stroke-linecap="butt" stroke-linejoin="miter"/>
<polyline points="486.7,541.3 493.7,533.3 500.7,541.3" fill="none" stroke="#000" stroke-width="2" stroke-linecap="butt" stroke-linejoin="miter"/>
<polyline points="486.7,547.1 493.7,539.1 500.7,547.1" fill="none" stroke="#000" stroke-width="2" stroke-linecap="butt" stroke-linejoin="miter"/>
<polyline points="504.4,541.3 511.4,533.3 518.4,541.3" fill="none" stroke="#000" stroke-width="2" stroke-linecap="butt" stroke-linejoin="miter"/>
<polyline points="504.4,547.1 511.4,539.1 518.4,547.1" fill="none" stroke="#000" stroke-width="2" stroke-linecap="butt" stroke-linejoin="miter"/>
<polyline points="522.9,541.3 529.9,533.3 536.9,541.3" fill="none" stroke="#000" stroke-width="2" stroke-linecap="butt" stroke-linejoin="miter"/>
<polyline points="522.9,547.1 529.9,539.1 536.9,547.1" fill="none" stroke="#000" stroke-width="2" stroke-linecap="butt" stroke-linejoin="miter"/>
<polyline points="573.5,541.3 580.5,533.3 587.5,541.3" fill="none" stroke="#000" stroke-width="2" stroke-linecap="butt" stroke-linejoin="miter"/>
<polyline points="573.5,547.1 580.5,539.1 587.5,547.1" fill="none" stroke="#000" stroke-width="2" stroke-linecap="butt" stroke-linejoin="miter"/>
<polyline points="591.6,541.3 598.6,533.3 605.6,541.3" fill="none" stroke="#000" stroke-width="2" stroke-linecap="butt" stroke-linejoin="miter"/>
<polyline points="591.6,547.1 598.6,539.1 605.6,547.1" fill="none" stroke="#000" stroke-width="2" stroke-linecap="butt" stroke-linejoin="miter"/>
<polyline points="609.5,541.3 616.5,533.3 623.5,541.3" fill="none" stroke="#000" stroke-width="2" stroke-linecap="butt" stroke-linejoin="miter"/>
<polyline points="609.5,547.1 616.5,539.1 623.5,547.1" fill="none" stroke="#000" stroke-width="2" stroke-linecap="butt" stroke-linejoin="miter"/>
<polyline points="626.3,541.3 633.3,533.3 640.3,541.3" fill="none" stroke="#000" stroke-width="2" stroke-linecap="butt" stroke-linejoin="miter"/>
<polyline points="626.3,547.1 633.3,539.1 640.3,547.1" fill="none" stroke="#000" stroke-width="2" stroke-linecap="butt" stroke-linejoin="miter"/>
<polyline points="645.3,541.3 652.3,533.3 659.3,541.3" fill="none" stroke="#000" stroke-width="2" stroke-linecap="butt" stroke-linejoin="miter"/>
<polyline points="645.3,547.1 652.3,539.1 659.3,547.1" fill="none" stroke="#000" stroke-width="2" stroke-linecap="butt" stroke-linejoin="miter"/>
<polyline points="661.7,541.3 668.7,533.3 675.7,541.3" fill="none" stroke="#000" stroke-width="2" stroke-linecap="butt" stroke-linejoin="miter"/>
<polyline points="661.7,547.1 668.7,539.1 675.7,547.1" fill="none" stroke="#000" stroke-width="2" stroke-linecap="butt" stroke-linejoin="miter"/>
<polyline points="680,541.3 687,533.3 694,541.3" fill="none" stroke="#000" stroke-width="2" stroke-linecap="butt" stroke-linejoin="miter"/>
<polyline points="680,547.1 687,539.1 694,547.1" fill="none" stroke="#000" stroke-width="2" stroke-linecap="butt" stroke-linejoin="miter"/>
<text transform="translate(0,530.98) scale(0.9000,1)" x="333.33 341.77 350.95 360.12" y="0" font-size="13">J112</text>
<text x="359.2" y="530.56" font-size="11" text-anchor="middle">3</text>
<text x="393.6" y="530.56" font-size="11" text-anchor="middle">1</text>
<text transform="translate(0,570.18) scale(0.9000,1)" x="400 410.15 418.86 427.56" y="0" font-size="13">P112</text>
<text transform="translate(0,515.08) scale(0.9000,1)" x="452.44 459.7 467.69 475.67" y="0" font-size="13">J113</text>
<text x="447.5" y="530.56" font-size="11" text-anchor="middle">6</text>
<text x="535.5" y="530.56" font-size="11" text-anchor="middle">1</text>
<text transform="translate(0,570.68) scale(0.9000,1)" x="511.11 521.3 530.04 538.78" y="0" font-size="13">P113</text>
<text x="585.6" y="531.16" font-size="11" text-anchor="middle">7</text>
<text x="690.2" y="531.16" font-size="11" text-anchor="middle">1</text>
<text transform="translate(0,569.38) scale(0.9000,1)" x="677.56 687.56 696.11 704.67" y="0" font-size="13">P114</text>
<text transform="translate(0,530.08) scale(0.9000,1)" x="787.78 795.15 803.24 811.34" y="0" font-size="13">J114</text>
<text transform="translate(0,559.08) scale(0.9000,1)" x="822.89 829.7 837.24 844.78" y="0" font-size="13">J101</text>
<polyline points="353.6,533.3 353.6,499.3 380.5,499.3" fill="none" stroke="#000" stroke-width="1.35" stroke-linecap="butt" stroke-linejoin="miter"/>
<polyline points="384.6,450.7 384.6,489" fill="none" stroke="#000" stroke-width="1.1" stroke-linecap="butt" stroke-linejoin="miter" stroke-dasharray="5 3"/>
<polyline points="388.4,500 388.4,533.3" fill="none" stroke="#000" stroke-width="1.35" stroke-linecap="butt" stroke-linejoin="miter"/>
<polyline points="442,533.3 442,499.3 452.5,499.3" fill="none" stroke="#000" stroke-width="1.35" stroke-linecap="butt" stroke-linejoin="miter"/>
<polyline points="476.7,533.3 476.7,499.3 486.6,499.3" fill="none" stroke="#000" stroke-width="1.35" stroke-linecap="butt" stroke-linejoin="miter"/>
<polyline points="511.4,533.3 511.4,499.3 522.5,499.3" fill="none" stroke="#000" stroke-width="1.35" stroke-linecap="butt" stroke-linejoin="miter"/>
<polyline points="459.7,533.3 459.7,454.4" fill="none" stroke="#000" stroke-width="1.35" stroke-linecap="butt" stroke-linejoin="miter"/>
<polyline points="493.7,533.3 493.7,468" fill="none" stroke="#000" stroke-width="1.35" stroke-linecap="butt" stroke-linejoin="miter"/>
<polyline points="529.9,533.3 529.9,454.4" fill="none" stroke="#000" stroke-width="1.35" stroke-linecap="butt" stroke-linejoin="miter"/>
<ellipse cx="459.7" cy="475.7" rx="7.3" ry="4.4" fill="none" stroke="#000" stroke-width="1.4"/>
<ellipse cx="493.7" cy="475.7" rx="7.3" ry="4.4" fill="none" stroke="#000" stroke-width="1.4"/>
<ellipse cx="529.9" cy="475.7" rx="7.3" ry="4.4" fill="none" stroke="#000" stroke-width="1.4"/>
<polyline points="536.5,475.7 548.5,475.7 548.5,485" fill="none" stroke="#000" stroke-width="1.35" stroke-linecap="butt" stroke-linejoin="miter"/>
<polyline points="541,485 559,485" fill="none" stroke="#000" stroke-width="1.8" stroke-linecap="butt" stroke-linejoin="miter"/>
<polyline points="542,485 537.8,492.5" fill="none" stroke="#000" stroke-width="1.8" stroke-linecap="butt" stroke-linejoin="miter"/>
<polyline points="550,485 545.8,492.5" fill="none" stroke="#000" stroke-width="1.8" stroke-linecap="butt" stroke-linejoin="miter"/>
<polyline points="558,485 553.8,492.5" fill="none" stroke="#000" stroke-width="1.8" stroke-linecap="butt" stroke-linejoin="miter"/>
<circle cx="536.7" cy="475.7" r="2" fill="#000"/>
<polyline points="580.5,533.3 580.5,497.3 592.5,497.3" fill="none" stroke="#000" stroke-width="1.35" stroke-linecap="butt" stroke-linejoin="miter"/>
<polyline points="652.3,533.3 652.3,497.3 640.3,497.3" fill="none" stroke="#000" stroke-width="1.35" stroke-linecap="butt" stroke-linejoin="miter"/>
<polyline points="687,533.3 687,497.3 676.3,497.3" fill="none" stroke="#000" stroke-width="1.35" stroke-linecap="butt" stroke-linejoin="miter"/>
<ellipse cx="387.6" cy="499.3" rx="7.3" ry="4.4" fill="none" stroke="#000" stroke-width="1.4"/>
<circle cx="381.1" cy="499.3" r="2.1" fill="#000"/>
<ellipse cx="459.7" cy="499.3" rx="7.3" ry="4.4" fill="none" stroke="#000" stroke-width="1.4"/>
<circle cx="453.2" cy="499.3" r="2.1" fill="#000"/>
<ellipse cx="493.7" cy="499.3" rx="7.3" ry="4.4" fill="none" stroke="#000" stroke-width="1.4"/>
<circle cx="487.2" cy="499.3" r="2.1" fill="#000"/>
<ellipse cx="529.9" cy="499.3" rx="7.3" ry="4.4" fill="none" stroke="#000" stroke-width="1.4"/>
<circle cx="523.4" cy="499.3" r="2.1" fill="#000"/>
<ellipse cx="598.6" cy="497.3" rx="7.3" ry="4.4" fill="none" stroke="#000" stroke-width="1.4"/>
<circle cx="592.1" cy="497.3" r="2.1" fill="#000"/>
<ellipse cx="633.6" cy="497.3" rx="7.3" ry="4.4" fill="none" stroke="#000" stroke-width="1.4"/>
<circle cx="640.1" cy="497.3" r="2.1" fill="#000"/>
<ellipse cx="668.8" cy="497.3" rx="7.3" ry="4.4" fill="none" stroke="#000" stroke-width="1.4"/>
<circle cx="675.3" cy="497.3" r="2.1" fill="#000"/>
<rect x="716.8" y="562.7" width="35.3" height="175.3" fill="none" stroke="#000" stroke-width="1.2" stroke-dasharray="6 3.5"/>
<polyline points="732.8,573 740.8,580 732.8,587" fill="none" stroke="#000" stroke-width="2" stroke-linecap="butt" stroke-linejoin="miter"/>
<polyline points="727,573 735,580 727,587" fill="none" stroke="#000" stroke-width="2" stroke-linecap="butt" stroke-linejoin="miter"/>
<polyline points="732.8,590.6 740.8,597.6 732.8,604.6" fill="none" stroke="#000" stroke-width="2" stroke-linecap="butt" stroke-linejoin="miter"/>
<polyline points="727,590.6 735,597.6 727,604.6" fill="none" stroke="#000" stroke-width="2" stroke-linecap="butt" stroke-linejoin="miter"/>
<polyline points="732.8,607.9 740.8,614.9 732.8,621.9" fill="none" stroke="#000" stroke-width="2" stroke-linecap="butt" stroke-linejoin="miter"/>
<polyline points="727,607.9 735,614.9 727,621.9" fill="none" stroke="#000" stroke-width="2" stroke-linecap="butt" stroke-linejoin="miter"/>
<polyline points="732.8,625 740.8,632 732.8,639" fill="none" stroke="#000" stroke-width="2" stroke-linecap="butt" stroke-linejoin="miter"/>
<polyline points="727,625 735,632 727,639" fill="none" stroke="#000" stroke-width="2" stroke-linecap="butt" stroke-linejoin="miter"/>
<polyline points="732.8,642.8 740.8,649.8 732.8,656.8" fill="none" stroke="#000" stroke-width="2" stroke-linecap="butt" stroke-linejoin="miter"/>
<polyline points="727,642.8 735,649.8 727,656.8" fill="none" stroke="#000" stroke-width="2" stroke-linecap="butt" stroke-linejoin="miter"/>
<polyline points="732.8,660.2 740.8,667.2 732.8,674.2" fill="none" stroke="#000" stroke-width="2" stroke-linecap="butt" stroke-linejoin="miter"/>
<polyline points="727,660.2 735,667.2 727,674.2" fill="none" stroke="#000" stroke-width="2" stroke-linecap="butt" stroke-linejoin="miter"/>
<polyline points="732.8,677.8 740.8,684.8 732.8,691.8" fill="none" stroke="#000" stroke-width="2" stroke-linecap="butt" stroke-linejoin="miter"/>
<polyline points="727,677.8 735,684.8 727,691.8" fill="none" stroke="#000" stroke-width="2" stroke-linecap="butt" stroke-linejoin="miter"/>
<polyline points="732.8,695.6 740.8,702.6 732.8,709.6" fill="none" stroke="#000" stroke-width="2" stroke-linecap="butt" stroke-linejoin="miter"/>
<polyline points="727,695.6 735,702.6 727,709.6" fill="none" stroke="#000" stroke-width="2" stroke-linecap="butt" stroke-linejoin="miter"/>
<polyline points="732.8,713 740.8,720 732.8,727" fill="none" stroke="#000" stroke-width="2" stroke-linecap="butt" stroke-linejoin="miter"/>
<polyline points="727,713 735,720 727,727" fill="none" stroke="#000" stroke-width="2" stroke-linecap="butt" stroke-linejoin="miter"/>
<text x="743.6" y="575.56" font-size="11" text-anchor="middle">1</text>
<text x="746" y="717.96" font-size="11" text-anchor="middle">9</text>
<text transform="translate(0,606.48) scale(0.9000,1)" x="751.56 760.85 768.71 776.56" y="0" font-size="13">P101</text>
<polyline points="740.8,720 776.8,720 776.8,713.5" fill="none" stroke="#000" stroke-width="1.35" stroke-linecap="butt" stroke-linejoin="miter"/>
<ellipse cx="776.8" cy="705.8" rx="3.8" ry="8" fill="none" stroke="#000" stroke-width="1.4"/>
<circle cx="776.8" cy="712.6" r="2.3" fill="#000"/>
<text transform="translate(0,751.68) scale(0.9000,1)" x="832.89 841.22 850.28 859.34" y="0" font-size="13">J102</text>
<rect x="716.8" y="755.2" width="35.3" height="70.6" fill="none" stroke="#000" stroke-width="1.2" stroke-dasharray="6 3.5"/>
<polyline points="733.8,760.3 740.8,764.5 733.8,768.7" fill="none" stroke="#000" stroke-width="1.1" stroke-linecap="butt" stroke-linejoin="miter"/>
<polyline points="727.3,760.3 734.3,764.5 727.3,768.7" fill="none" stroke="#000" stroke-width="1.1" stroke-linecap="butt" stroke-linejoin="miter"/>
<polyline points="733.8,772.4 740.8,776.6 733.8,780.8" fill="none" stroke="#000" stroke-width="1.1" stroke-linecap="butt" stroke-linejoin="miter"/>
<polyline points="727.3,772.4 734.3,776.6 727.3,780.8" fill="none" stroke="#000" stroke-width="1.1" stroke-linecap="butt" stroke-linejoin="miter"/>
<polyline points="733.8,786.3 740.8,790.5 733.8,794.7" fill="none" stroke="#000" stroke-width="1.1" stroke-linecap="butt" stroke-linejoin="miter"/>
<polyline points="727.3,786.3 734.3,790.5 727.3,794.7" fill="none" stroke="#000" stroke-width="1.1" stroke-linecap="butt" stroke-linejoin="miter"/>
<polyline points="733.8,798.8 740.8,803 733.8,807.2" fill="none" stroke="#000" stroke-width="1.1" stroke-linecap="butt" stroke-linejoin="miter"/>
<polyline points="727.3,798.8 734.3,803 727.3,807.2" fill="none" stroke="#000" stroke-width="1.1" stroke-linecap="butt" stroke-linejoin="miter"/>
<polyline points="733.8,811.5 740.8,815.7 733.8,819.9" fill="none" stroke="#000" stroke-width="1.1" stroke-linecap="butt" stroke-linejoin="miter"/>
<polyline points="727.3,811.5 734.3,815.7 727.3,819.9" fill="none" stroke="#000" stroke-width="1.1" stroke-linecap="butt" stroke-linejoin="miter"/>
<text x="719.8" y="765.94" font-size="9" text-anchor="middle">11</text>
<text x="721" y="824.6" font-size="10" text-anchor="middle">5</text>
<text transform="translate(0,798.98) scale(0.9000,1)" x="748.78 760.41 770.6 780.78" y="0" font-size="13">P102</text>
<polyline points="740.8,764.5 786,764.5" fill="none" stroke="#000" stroke-width="1.35" stroke-linecap="butt" stroke-linejoin="miter"/>
<polygon points="794.2,764.5 785.2,761.3 785.2,767.7" fill="#000"/>
<circle cx="803.8" cy="765.2" r="9.3" fill="#fff" stroke="#000" stroke-width="1.3"/>
<text x="803.8" y="769.52" font-size="12" text-anchor="middle">A</text>
<polyline points="740.8,776.6 812,776.6" fill="none" stroke="#000" stroke-width="1.35" stroke-linecap="butt" stroke-linejoin="miter"/>
<polygon points="822.2,776.6 813.2,773.4 813.2,779.8" fill="#000"/>
<circle cx="832.4" cy="776.6" r="9.3" fill="#fff" stroke="#000" stroke-width="1.3"/>
<text x="832.4" y="780.92" font-size="12" text-anchor="middle">B</text>
<polyline points="740.8,790.5 786,790.5" fill="none" stroke="#000" stroke-width="1.35" stroke-linecap="butt" stroke-linejoin="miter"/>
<polygon points="794.2,790.5 785.2,787.3 785.2,793.7" fill="#000"/>
<circle cx="803.8" cy="791" r="9.3" fill="#fff" stroke="#000" stroke-width="1.3"/>
<text x="803.8" y="795.32" font-size="12" text-anchor="middle">C</text>
<text transform="translate(0,841.28) scale(0.9000,1)" x="827.22 836 845.5 855.01" y="0" font-size="13">J103</text>
<rect x="718" y="843.5" width="34.9" height="70.1" fill="none" stroke="#000" stroke-width="1.2" stroke-dasharray="6 3.5"/>
<polyline points="733.3,854 741.3,861 733.3,868" fill="none" stroke="#000" stroke-width="2" stroke-linecap="butt" stroke-linejoin="miter"/>
<polyline points="727.5,854 735.5,861 727.5,868" fill="none" stroke="#000" stroke-width="2" stroke-linecap="butt" stroke-linejoin="miter"/>
<polyline points="733.3,870.5 741.3,877.5 733.3,884.5" fill="none" stroke="#000" stroke-width="2" stroke-linecap="butt" stroke-linejoin="miter"/>
<polyline points="727.5,870.5 735.5,877.5 727.5,884.5" fill="none" stroke="#000" stroke-width="2" stroke-linecap="butt" stroke-linejoin="miter"/>
<polyline points="733.3,888.2 741.3,895.2 733.3,902.2" fill="none" stroke="#000" stroke-width="2" stroke-linecap="butt" stroke-linejoin="miter"/>
<polyline points="727.5,888.2 735.5,895.2 727.5,902.2" fill="none" stroke="#000" stroke-width="2" stroke-linecap="butt" stroke-linejoin="miter"/>
<text x="742.4" y="857.96" font-size="11" text-anchor="middle">1</text>
<text x="745" y="892.96" font-size="11" text-anchor="middle">3</text>
<text transform="translate(0,883.48) scale(0.9000,1)" x="748.78 759.48 768.74 778.01" y="0" font-size="13">P103</text>
<polyline points="741.3,860.8 800.8,860.8 800.8,870" fill="none" stroke="#000" stroke-width="1.35" stroke-linecap="butt" stroke-linejoin="miter"/>
<polyline points="792.8,870 808.8,870 800.8,883.2 792.8,870" fill="#fff" stroke="#000" stroke-width="1.6" stroke-linecap="butt" stroke-linejoin="miter"/>
<polyline points="792.8,884.2 808.8,884.2" fill="none" stroke="#000" stroke-width="1.8" stroke-linecap="butt" stroke-linejoin="miter"/>
<polyline points="800.8,884.2 800.8,895.2 741.3,895.2" fill="none" stroke="#000" stroke-width="1.35" stroke-linecap="butt" stroke-linejoin="miter"/>
<text transform="translate(0,870.08) scale(0.9000,1)" x="904.89 915.44 923.84 932.23" y="0" font-size="13">D001</text>
<text transform="translate(0,883.48) scale(0.9000,1)" x="904.89 915.56 924.78 935.45 941.78 951 960.23" y="0" font-size="13">SLP-751</text>
<rect x="718" y="931.8" width="35.6" height="69.4" fill="none" stroke="#000" stroke-width="1.2" stroke-dasharray="6 3.5"/>
<polyline points="733.3,941.5 741.3,948.5 733.3,955.5" fill="none" stroke="#000" stroke-width="2" stroke-linecap="butt" stroke-linejoin="miter"/>
<polyline points="727.5,941.5 735.5,948.5 727.5,955.5" fill="none" stroke="#000" stroke-width="2" stroke-linecap="butt" stroke-linejoin="miter"/>
<polyline points="733.3,958.3 741.3,965.3 733.3,972.3" fill="none" stroke="#000" stroke-width="2" stroke-linecap="butt" stroke-linejoin="miter"/>
<polyline points="727.5,958.3 735.5,965.3 727.5,972.3" fill="none" stroke="#000" stroke-width="2" stroke-linecap="butt" stroke-linejoin="miter"/>
<polyline points="733.3,976.5 741.3,983.5 733.3,990.5" fill="none" stroke="#000" stroke-width="2" stroke-linecap="butt" stroke-linejoin="miter"/>
<polyline points="727.5,976.5 735.5,983.5 727.5,990.5" fill="none" stroke="#000" stroke-width="2" stroke-linecap="butt" stroke-linejoin="miter"/>
<text x="745" y="944.56" font-size="11" text-anchor="middle">1</text>
<text x="745" y="980.76" font-size="11" text-anchor="middle">3</text>
<text transform="translate(0,967.28) scale(0.9000,1)" x="757.22 767.44 776.23 785.01" y="0" font-size="13">P104</text>
<polyline points="741.3,948.3 779,948.3 779,965.5 810,965.5" fill="none" stroke="#000" stroke-width="1.35" stroke-linecap="butt" stroke-linejoin="miter"/>
<polyline points="741.3,983.3 810,983.3" fill="none" stroke="#000" stroke-width="1.35" stroke-linecap="butt" stroke-linejoin="miter"/>
<circle cx="774.2" cy="910.6" r="9.5" fill="#fff" stroke="#000" stroke-width="1.3"/>
<text x="774.2" y="914.92" font-size="12" text-anchor="middle">D</text>
<polyline points="795,913.9 809.6,913.9" fill="none" stroke="#000" stroke-width="1.35" stroke-linecap="butt" stroke-linejoin="miter"/>
<polygon points="785.2,913.9 794.7,910.5 794.7,917.3" fill="#000"/>
<circle cx="813.6" cy="913.9" r="4" fill="#fff" stroke="#000" stroke-width="1.2"/>
<polyline points="817.6,913.9 830,913.9 830,920.6" fill="none" stroke="#000" stroke-width="1.35" stroke-linecap="butt" stroke-linejoin="miter"/>
<polyline points="827.7,920.6 832.3,920.6 830,924.6 827.7,920.6" fill="none" stroke="#000" stroke-width="1" stroke-linecap="butt" stroke-linejoin="miter"/>
<circle cx="782" cy="934.4" r="9.5" fill="#fff" stroke="#000" stroke-width="1.3"/>
<text x="782" y="938.72" font-size="12" text-anchor="middle">E</text>
<polyline points="800,931.3 809.6,931.3" fill="none" stroke="#000" stroke-width="1.35" stroke-linecap="butt" stroke-linejoin="miter"/>
<polygon points="791.5,931.3 800.5,927.7 800.5,934.9" fill="#000"/>
<circle cx="813.6" cy="931.3" r="4" fill="#fff" stroke="#000" stroke-width="1.2"/>
<polyline points="817.6,931.8 839.4,931.8" fill="none" stroke="#000" stroke-width="1.35" stroke-linecap="butt" stroke-linejoin="miter"/>
<circle cx="813.6" cy="948.1" r="4" fill="#fff" stroke="#000" stroke-width="1.2"/>
<polyline points="817.6,948.1 830.2,948.1 830.2,938" fill="none" stroke="#000" stroke-width="1.35" stroke-linecap="butt" stroke-linejoin="miter"/>
<polygon points="830.2,932.3 827.6,938.8 832.8,938.8" fill="#000"/>
<rect x="837.6" y="934.4" width="6.5" height="20.6" fill="none" stroke="#000" stroke-width="1.1"/>
<circle cx="813.6" cy="965.5" r="4" fill="#fff" stroke="#000" stroke-width="1.2"/>
<polyline points="817.6,965.5 827.3,965.5 832.6,970.5 839.4,958" fill="none" stroke="#000" stroke-width="1.35" stroke-linecap="butt" stroke-linejoin="miter"/>
<circle cx="813.6" cy="983.3" r="4" fill="#fff" stroke="#000" stroke-width="1.2"/>
<polyline points="817.6,983.3 847,983.3" fill="none" stroke="#000" stroke-width="1.35" stroke-linecap="butt" stroke-linejoin="miter"/>
<rect x="845" y="966.5" width="3.3" height="16.8" fill="none" stroke="#000" stroke-width="1.3"/>
<text transform="translate(0,935.68) scale(0.9000,1)" x="945 954.26 964.24 974.23" y="0" font-size="13">J008</text>
<text transform="translate(0,948.68) scale(0.9000,1)" x="945 955.08 965.89 977.41 988.21" y="0" font-size="13">PHONE</text>
<text transform="translate(0,1015.38) scale(0.9000,1)" x="822.22 831.7 841.91 852.12" y="0" font-size="13">J104</text>
<text transform="translate(0,1039.48) scale(0.9000,1)" x="775.22 785.03 795.58 806.12" y="0" font-size="13">J105</text>
<rect x="446.3" y="1007.3" width="70" height="30.7" fill="none" stroke="#000" stroke-width="1.2" stroke-dasharray="6 3.5"/>
<rect x="534.8" y="1007.3" width="69" height="30.7" fill="none" stroke="#000" stroke-width="1.2" stroke-dasharray="6 3.5"/>
<rect x="620.6" y="1005.4" width="70.6" height="31.6" fill="none" stroke="#000" stroke-width="1.2" stroke-dasharray="6 3.5"/>
<polyline points="457.1,1014.2 464.1,1022.2 471.1,1014.2" fill="none" stroke="#000" stroke-width="2" stroke-linecap="butt" stroke-linejoin="miter"/>
<polyline points="457.1,1020 464.1,1028 471.1,1020" fill="none" stroke="#000" stroke-width="2" stroke-linecap="butt" stroke-linejoin="miter"/>
<polyline points="475.6,1014.2 482.6,1022.2 489.6,1014.2" fill="none" stroke="#000" stroke-width="2" stroke-linecap="butt" stroke-linejoin="miter"/>
<polyline points="475.6,1020 482.6,1028 489.6,1020" fill="none" stroke="#000" stroke-width="2" stroke-linecap="butt" stroke-linejoin="miter"/>
<polyline points="494.1,1014.2 501.1,1022.2 508.1,1014.2" fill="none" stroke="#000" stroke-width="2" stroke-linecap="butt" stroke-linejoin="miter"/>
<polyline points="494.1,1020 501.1,1028 508.1,1020" fill="none" stroke="#000" stroke-width="2" stroke-linecap="butt" stroke-linejoin="miter"/>
<polyline points="545.3,1014.2 552.3,1022.2 559.3,1014.2" fill="none" stroke="#000" stroke-width="2" stroke-linecap="butt" stroke-linejoin="miter"/>
<polyline points="545.3,1020 552.3,1028 559.3,1020" fill="none" stroke="#000" stroke-width="2" stroke-linecap="butt" stroke-linejoin="miter"/>
<polyline points="563.8,1014.2 570.8,1022.2 577.8,1014.2" fill="none" stroke="#000" stroke-width="2" stroke-linecap="butt" stroke-linejoin="miter"/>
<polyline points="563.8,1020 570.8,1028 577.8,1020" fill="none" stroke="#000" stroke-width="2" stroke-linecap="butt" stroke-linejoin="miter"/>
<polyline points="581.6,1014.2 588.6,1022.2 595.6,1014.2" fill="none" stroke="#000" stroke-width="2" stroke-linecap="butt" stroke-linejoin="miter"/>
<polyline points="581.6,1020 588.6,1028 595.6,1020" fill="none" stroke="#000" stroke-width="2" stroke-linecap="butt" stroke-linejoin="miter"/>
<polyline points="632,1014.2 639,1022.2 646,1014.2" fill="none" stroke="#000" stroke-width="2" stroke-linecap="butt" stroke-linejoin="miter"/>
<polyline points="632,1020 639,1028 646,1020" fill="none" stroke="#000" stroke-width="2" stroke-linecap="butt" stroke-linejoin="miter"/>
<polyline points="649.6,1014.2 656.6,1022.2 663.6,1014.2" fill="none" stroke="#000" stroke-width="2" stroke-linecap="butt" stroke-linejoin="miter"/>
<polyline points="649.6,1020 656.6,1028 663.6,1020" fill="none" stroke="#000" stroke-width="2" stroke-linecap="butt" stroke-linejoin="miter"/>
<polyline points="668.4,1014.2 675.4,1022.2 682.4,1014.2" fill="none" stroke="#000" stroke-width="2" stroke-linecap="butt" stroke-linejoin="miter"/>
<polyline points="668.4,1020 675.4,1028 682.4,1020" fill="none" stroke="#000" stroke-width="2" stroke-linecap="butt" stroke-linejoin="miter"/>
<text transform="translate(0,1001.28) scale(0.9000,1)" x="515.56 526.63 536.26 545.9" y="0" font-size="13">P106</text>
<text transform="translate(0,1001.28) scale(0.9000,1)" x="614.78 624.56 632.89 641.23" y="0" font-size="13">P115</text>
<text transform="translate(0,1001.28) scale(0.9000,1)" x="708.22 718.63 727.6 736.56" y="0" font-size="13">P105</text>
<text x="456.7" y="1034.56" font-size="11" text-anchor="middle">3</text>
<text x="508.5" y="1034.56" font-size="11" text-anchor="middle">1</text>
<text x="544.9" y="1034.56" font-size="11" text-anchor="middle">3</text>
<text x="596" y="1034.56" font-size="11" text-anchor="middle">1</text>
<text x="631.6" y="1034.56" font-size="11" text-anchor="middle">3</text>
<text x="682.8" y="1034.56" font-size="11" text-anchor="middle">1</text>
<text transform="translate(0,1038.68) scale(0.9000,1)" x="450.22 458.55 467.61 476.67" y="0" font-size="13">J106</text>
<text transform="translate(0,1054.38) scale(0.9000,1)" x="575.56 582.85 590.87 598.9" y="0" font-size="13">J115</text>
<polyline points="464.1,1028 464.1,1058 490.5,1058" fill="none" stroke="#000" stroke-width="1.35" stroke-linecap="butt" stroke-linejoin="miter"/>
<polyline points="501.1,1028 501.1,1097.6 866,1097.6" fill="none" stroke="#000" stroke-width="1.35" stroke-linecap="butt" stroke-linejoin="miter"/>
<polyline points="552.3,1028 552.3,1058 579.5,1058" fill="none" stroke="#000" stroke-width="1.35" stroke-linecap="butt" stroke-linejoin="miter"/>
<polyline points="588.6,1028 588.6,1079.6 799.9,1079.6 799.9,1061 866,1061" fill="none" stroke="#000" stroke-width="1.35" stroke-linecap="butt" stroke-linejoin="miter"/>
<polyline points="639,1028 639,1053 667,1053" fill="none" stroke="#000" stroke-width="1.35" stroke-linecap="butt" stroke-linejoin="miter"/>
<polyline points="675.4,1028 675.4,1062.6 777.8,1062.6 777.8,1023 866,1023" fill="none" stroke="#000" stroke-width="1.35" stroke-linecap="butt" stroke-linejoin="miter"/>
<ellipse cx="499.4" cy="1058" rx="7" ry="4.6" fill="none" stroke="#000" stroke-width="1.4"/>
<circle cx="493.1" cy="1058" r="2.1" fill="#000"/>
<ellipse cx="588.6" cy="1058" rx="7" ry="4.6" fill="none" stroke="#000" stroke-width="1.4"/>
<circle cx="582.3" cy="1058" r="2.1" fill="#000"/>
<ellipse cx="674.6" cy="1053" rx="7" ry="4.6" fill="none" stroke="#000" stroke-width="1.4"/>
<circle cx="668.3" cy="1053" r="2.1" fill="#000"/>
<circle cx="867.6" cy="1023" r="9.7" fill="#fff" stroke="#000" stroke-width="1.8"/>
<circle cx="867.6" cy="1023" r="5.6" fill="#fff" stroke="#000" stroke-width="1.7"/>
<circle cx="863.4" cy="1023" r="2.4" fill="#000"/>
<ellipse cx="835.8" cy="1024" rx="4.4" ry="7.6" fill="none" stroke="#000" stroke-width="1.6"/>
<polyline points="835.8,1031.6 835.8,1043 867.6,1043 867.6,1032.7" fill="none" stroke="#000" stroke-width="1.35" stroke-linecap="butt" stroke-linejoin="miter"/>
<circle cx="835.8" cy="1030.2" r="2.3" fill="#000"/>
<circle cx="867.6" cy="1031.2" r="2.3" fill="#000"/>
<circle cx="867.6" cy="1061" r="9.7" fill="#fff" stroke="#000" stroke-width="1.8"/>
<circle cx="867.6" cy="1061" r="5.6" fill="#fff" stroke="#000" stroke-width="1.7"/>
<circle cx="863.4" cy="1061" r="2.4" fill="#000"/>
<ellipse cx="835.8" cy="1062" rx="4.4" ry="7.6" fill="none" stroke="#000" stroke-width="1.6"/>
<polyline points="835.8,1069.6 835.8,1078.5 867.6,1078.5 867.6,1070.7" fill="none" stroke="#000" stroke-width="1.35" stroke-linecap="butt" stroke-linejoin="miter"/>
<circle cx="835.8" cy="1068.2" r="2.3" fill="#000"/>
<circle cx="867.6" cy="1069.2" r="2.3" fill="#000"/>
<circle cx="867.6" cy="1097.6" r="9.7" fill="#fff" stroke="#000" stroke-width="1.8"/>
<circle cx="867.6" cy="1097.6" r="5.6" fill="#fff" stroke="#000" stroke-width="1.7"/>
<circle cx="863.4" cy="1097.6" r="2.4" fill="#000"/>
<ellipse cx="835.8" cy="1098.6" rx="4.4" ry="7.6" fill="none" stroke="#000" stroke-width="1.6"/>
<polyline points="835.8,1106.2 835.8,1114 867.6,1114 867.6,1107.3" fill="none" stroke="#000" stroke-width="1.35" stroke-linecap="butt" stroke-linejoin="miter"/>
<circle cx="835.8" cy="1104.8" r="2.3" fill="#000"/>
<circle cx="867.6" cy="1105.8" r="2.3" fill="#000"/>
<text transform="translate(0,1009.48) scale(0.9000,1)" x="918.22 927.63 937.76 947.9" y="0" font-size="13">J003</text>
<text transform="translate(0,1008.7) scale(0.8779,1)" x="1000.12 1007.75 1016.78 1026.5" y="0" font-size="12.5">FROM</text>
<text transform="translate(0,1021.5) scale(0.9000,1)" x="977.11 990.52 999.77" y="0" font-size="12.5">T P</text>
<text transform="translate(0,1034.9) scale(0.8443,1)" x="1039.94 1044.1 1053.13 1061.47" y="0" font-size="12.5">(REC</text>
<text transform="translate(0,1048.1) scale(0.9000,1)" x="985.22 995.08 1005.62" y="0" font-size="12.5">VR)</text>
<text transform="translate(0,1055.68) scale(0.9000,1)" x="882.22 890.81 900.13 909.45" y="0" font-size="13">J004</text>
<text transform="translate(0,1065.2) scale(0.9000,1)" x="975.56 988.31" y="0" font-size="12.5">V.</text>
<text transform="translate(0,1080) scale(0.7722,1)" x="1138.77 1147.11 1156.14 1165.86 1174.2" y="0" font-size="12.5">SCOPE</text>
<text transform="translate(0,1130.18) scale(0.9000,1)" x="905.11 913.85 923.32 932.79" y="0" font-size="13">J005</text>
<text transform="translate(0,1130) scale(0.9000,1)" x="949.22 958.26 961.74 970.09 979.13 988.86 997.21" y="0" font-size="12.5">H.SCOPE</text>
<rect x="385.8" y="935.8" width="33.9" height="71.7" fill="none" stroke="#000" stroke-width="1.2" stroke-dasharray="6 3.5"/>
<polyline points="407.4,947.3 399.4,954.3 407.4,961.3" fill="none" stroke="#000" stroke-width="2" stroke-linecap="butt" stroke-linejoin="miter"/>
<polyline points="413.2,947.3 405.2,954.3 413.2,961.3" fill="none" stroke="#000" stroke-width="2" stroke-linecap="butt" stroke-linejoin="miter"/>
<polyline points="407.4,964.6 399.4,971.6 407.4,978.6" fill="none" stroke="#000" stroke-width="2" stroke-linecap="butt" stroke-linejoin="miter"/>
<polyline points="413.2,964.6 405.2,971.6 413.2,978.6" fill="none" stroke="#000" stroke-width="2" stroke-linecap="butt" stroke-linejoin="miter"/>
<polyline points="407.4,981.3 399.4,988.3 407.4,995.3" fill="none" stroke="#000" stroke-width="2" stroke-linecap="butt" stroke-linejoin="miter"/>
<polyline points="413.2,981.3 405.2,988.3 413.2,995.3" fill="none" stroke="#000" stroke-width="2" stroke-linecap="butt" stroke-linejoin="miter"/>
<text x="392" y="949.36" font-size="11" text-anchor="middle">1</text>
<text x="392.6" y="985.26" font-size="11" text-anchor="middle">3</text>
<text transform="translate(0,975.98) scale(0.9000,1)" x="474.44 484 492.11 500.23" y="0" font-size="13">P107</text>
<text transform="translate(0,935.88) scale(0.9000,1)" x="395.89 403.52 411.87 420.23" y="0" font-size="13">J107</text>
<rect x="287.4" y="564.4" width="36.4" height="69.6" fill="none" stroke="#000" stroke-width="1.2" stroke-dasharray="6 3.5"/>
<rect x="287.4" y="651.9" width="35.9" height="69.4" fill="none" stroke="#000" stroke-width="1.2" stroke-dasharray="6 3.5"/>
<rect x="288.5" y="740.5" width="34.8" height="69.3" fill="none" stroke="#000" stroke-width="1.2" stroke-dasharray="6 3.5"/>
<rect x="288.5" y="827.8" width="34.8" height="70" fill="none" stroke="#000" stroke-width="1.2" stroke-dasharray="6 3.5"/>
<polyline points="308,575.6 300,582.6 308,589.6" fill="none" stroke="#000" stroke-width="2" stroke-linecap="butt" stroke-linejoin="miter"/>
<polyline points="313.8,575.6 305.8,582.6 313.8,589.6" fill="none" stroke="#000" stroke-width="2" stroke-linecap="butt" stroke-linejoin="miter"/>
<polyline points="308,591.8 300,598.8 308,605.8" fill="none" stroke="#000" stroke-width="2" stroke-linecap="butt" stroke-linejoin="miter"/>
<polyline points="313.8,591.8 305.8,598.8 313.8,605.8" fill="none" stroke="#000" stroke-width="2" stroke-linecap="butt" stroke-linejoin="miter"/>
<polyline points="308,609.4 300,616.4 308,623.4" fill="none" stroke="#000" stroke-width="2" stroke-linecap="butt" stroke-linejoin="miter"/>
<polyline points="313.8,609.4 305.8,616.4 313.8,623.4" fill="none" stroke="#000" stroke-width="2" stroke-linecap="butt" stroke-linejoin="miter"/>
<polyline points="308,662.8 300,669.8 308,676.8" fill="none" stroke="#000" stroke-width="2" stroke-linecap="butt" stroke-linejoin="miter"/>
<polyline points="313.8,662.8 305.8,669.8 313.8,676.8" fill="none" stroke="#000" stroke-width="2" stroke-linecap="butt" stroke-linejoin="miter"/>
<polyline points="308,680 300,687 308,694" fill="none" stroke="#000" stroke-width="2" stroke-linecap="butt" stroke-linejoin="miter"/>
<polyline points="313.8,680 305.8,687 313.8,694" fill="none" stroke="#000" stroke-width="2" stroke-linecap="butt" stroke-linejoin="miter"/>
<polyline points="308,698.6 300,705.6 308,712.6" fill="none" stroke="#000" stroke-width="2" stroke-linecap="butt" stroke-linejoin="miter"/>
<polyline points="313.8,698.6 305.8,705.6 313.8,712.6" fill="none" stroke="#000" stroke-width="2" stroke-linecap="butt" stroke-linejoin="miter"/>
<polyline points="308,751.7 300,758.7 308,765.7" fill="none" stroke="#000" stroke-width="2" stroke-linecap="butt" stroke-linejoin="miter"/>
<polyline points="313.8,751.7 305.8,758.7 313.8,765.7" fill="none" stroke="#000" stroke-width="2" stroke-linecap="butt" stroke-linejoin="miter"/>
<polyline points="308,768.5 300,775.5 308,782.5" fill="none" stroke="#000" stroke-width="2" stroke-linecap="butt" stroke-linejoin="miter"/>
<polyline points="313.8,768.5 305.8,775.5 313.8,782.5" fill="none" stroke="#000" stroke-width="2" stroke-linecap="butt" stroke-linejoin="miter"/>
<polyline points="308,785.6 300,792.6 308,799.6" fill="none" stroke="#000" stroke-width="2" stroke-linecap="butt" stroke-linejoin="miter"/>
<polyline points="313.8,785.6 305.8,792.6 313.8,799.6" fill="none" stroke="#000" stroke-width="2" stroke-linecap="butt" stroke-linejoin="miter"/>
<polyline points="308,838.2 300,845.2 308,852.2" fill="none" stroke="#000" stroke-width="2" stroke-linecap="butt" stroke-linejoin="miter"/>
<polyline points="313.8,838.2 305.8,845.2 313.8,852.2" fill="none" stroke="#000" stroke-width="2" stroke-linecap="butt" stroke-linejoin="miter"/>
<polyline points="308,855.2 300,862.2 308,869.2" fill="none" stroke="#000" stroke-width="2" stroke-linecap="butt" stroke-linejoin="miter"/>
<polyline points="313.8,855.2 305.8,862.2 313.8,869.2" fill="none" stroke="#000" stroke-width="2" stroke-linecap="butt" stroke-linejoin="miter"/>
<polyline points="308,872.9 300,879.9 308,886.9" fill="none" stroke="#000" stroke-width="2" stroke-linecap="butt" stroke-linejoin="miter"/>
<polyline points="313.8,872.9 305.8,879.9 313.8,886.9" fill="none" stroke="#000" stroke-width="2" stroke-linecap="butt" stroke-linejoin="miter"/>
<text transform="translate(0,561.68) scale(0.9000,1)" x="300.67 307.18 314.43 321.67" y="0" font-size="13">J111</text>
<text x="294.6" y="575.36" font-size="11" text-anchor="middle">1</text>
<text x="292.8" y="614.16" font-size="11" text-anchor="middle">3</text>
<text transform="translate(0,608.38) scale(0.8765,1)" x="377.28 385.95 393.18 400.41" y="0" font-size="13">P111</text>
<text transform="translate(0,649.68) scale(0.9000,1)" x="293.67 300.81 308.69 316.56" y="0" font-size="13">J110</text>
<text x="294.6" y="664.16" font-size="11" text-anchor="middle">1</text>
<text x="294.6" y="701.96" font-size="11" text-anchor="middle">3</text>
<text transform="translate(0,690.78) scale(0.9000,1)" x="370.78 380.63 389.04 397.45" y="0" font-size="13">P110</text>
<text transform="translate(0,737.48) scale(0.9000,1)" x="291.67 300.07 309.21 318.34" y="0" font-size="13">J109</text>
<text x="295" y="751.96" font-size="11" text-anchor="middle">1</text>
<text x="295" y="788.96" font-size="11" text-anchor="middle">3</text>
<text transform="translate(0,779.28) scale(0.9000,1)" x="368.44 379.67 389.45 399.23" y="0" font-size="13">P109</text>
<text transform="translate(0,825.48) scale(0.9000,1)" x="291.67 299.63 308.32 317.01" y="0" font-size="13">J108</text>
<text x="295" y="840.26" font-size="11" text-anchor="middle">1</text>
<text x="295" y="876.36" font-size="11" text-anchor="middle">3</text>
<text transform="translate(0,867.98) scale(0.9000,1)" x="368.44 379.37 388.86 398.34" y="0" font-size="13">P108</text>
<rect x="102.9" y="465.2" width="64.9" height="15.2" fill="none" stroke="#000" stroke-width="1.1"/>
<text transform="translate(0,477.3) scale(0.9000,1)" x="118.56 128.72 137.5 147.67 152.97 164.52 175.37" y="0" font-size="12.5">BLK OUT</text>
<circle cx="120.5" cy="498.8" r="9.6" fill="#fff" stroke="#000" stroke-width="1.8"/>
<circle cx="120.5" cy="498.8" r="5.5" fill="#fff" stroke="#000" stroke-width="1.7"/>
<circle cx="125.3" cy="499.2" r="2.3" fill="#000"/>
<ellipse cx="151.6" cy="502.3" rx="4.4" ry="8.3" fill="none" stroke="#000" stroke-width="1.6"/>
<circle cx="151" cy="509.2" r="2.3" fill="#000"/>
<circle cx="119.5" cy="507.6" r="2.3" fill="#000"/>
<polyline points="119.4,507.6 119.4,521.3 150.9,521.3 150.9,509" fill="none" stroke="#000" stroke-width="1.35" stroke-linecap="butt" stroke-linejoin="miter"/>
<polyline points="130.1,499.6 205.7,499.6 205.7,582.6 300,582.6" fill="none" stroke="#000" stroke-width="1.35" stroke-linecap="butt" stroke-linejoin="miter"/>
<ellipse cx="269.4" cy="583" rx="4.6" ry="6.4" fill="none" stroke="#000" stroke-width="1.3"/>
<circle cx="269.4" cy="589" r="2.3" fill="#000"/>
<polyline points="300,616.4 269.4,616.4 269.4,590" fill="none" stroke="#000" stroke-width="1.35" stroke-linecap="butt" stroke-linejoin="miter"/>
<text transform="translate(0,521.68) scale(0.9000,1)" x="180.22 190.4 201.32 212.23" y="0" font-size="13">J006</text>
<rect x="92.8" y="560.6" width="58.6" height="56.1" fill="none" stroke="#000" stroke-width="1.3"/>
<polyline points="92.8,578.3 151.4,578.3" fill="none" stroke="#000" stroke-width="1.3" stroke-linecap="butt" stroke-linejoin="miter"/>
<text transform="translate(0,575.2) scale(0.9000,1)" x="112.89 125.53 135.41 145.28" y="0" font-size="12.5">Q001</text>
<text transform="translate(0,601.68) scale(0.9000,1)" x="107.33 116.1 126.32 137.24 146.01 154.78" y="0" font-size="13">2SD880</text>
<rect x="97.9" y="616.7" width="5" height="22.7" fill="none" stroke="#000" stroke-width="1.1"/>
<rect x="120.6" y="616.7" width="5" height="22.7" fill="none" stroke="#000" stroke-width="1.1"/>
<rect x="142.8" y="616.7" width="5" height="22.7" fill="none" stroke="#000" stroke-width="1.1"/>
<polyline points="100.4,639.4 100.4,696.9 209,696.9 209,758.7 300,758.7" fill="none" stroke="#000" stroke-width="1.35" stroke-linecap="butt" stroke-linejoin="miter"/>
<polyline points="123.1,639.4 123.1,678.8 191.2,678.8 191.2,775.5 300,775.5" fill="none" stroke="#000" stroke-width="1.35" stroke-linecap="butt" stroke-linejoin="miter"/>
<polyline points="145.3,639.4 145.3,660.6 173.2,660.6 173.2,792.6 300,792.6" fill="none" stroke="#000" stroke-width="1.35" stroke-linecap="butt" stroke-linejoin="miter"/>
<polyline points="100.4,678.8 107.8,678.8" fill="none" stroke="#000" stroke-width="1.35" stroke-linecap="butt" stroke-linejoin="miter"/>
<polyline points="107.8,672.4 107.8,685.6" fill="none" stroke="#000" stroke-width="2.1" stroke-linecap="butt" stroke-linejoin="miter"/>
<polyline points="116,672.4 116,685.6" fill="none" stroke="#000" stroke-width="2.1" stroke-linecap="butt" stroke-linejoin="miter"/>
<polyline points="116,678.8 123.1,678.8" fill="none" stroke="#000" stroke-width="1.35" stroke-linecap="butt" stroke-linejoin="miter"/>
<circle cx="100.4" cy="678.8" r="2.7" fill="#000"/>
<circle cx="123.1" cy="678.8" r="2.7" fill="#000"/>
<text transform="translate(0,710.9) scale(0.9000,1)" x="104 115.44 124.81 134.17" y="0" font-size="12.5">C003</text>
<text transform="translate(0,723.8) scale(0.9000,1)" x="104 113.06 118.65 127.71 136.78 145.84 151.43 157.7 168.84" y="0" font-size="12.5">0.001 (C)</text>
<rect x="93.6" y="741.7" width="57.4" height="56" fill="none" stroke="#000" stroke-width="1.3"/>
<polyline points="93.6,759 151,759" fill="none" stroke="#000" stroke-width="1.3" stroke-linecap="butt" stroke-linejoin="miter"/>
<text transform="translate(0,755.2) scale(0.9000,1)" x="112.22 118.75 130.83 140.83 150.84" y="0" font-size="12.5">IC001</text>
<text transform="translate(0,779.48) scale(0.9000,1)" x="116.67 127.45 138.23 149.01" y="0" font-size="13">7915</text>
<rect x="98.5" y="797.7" width="5" height="21.3" fill="none" stroke="#000" stroke-width="1.1"/>
<rect x="120.9" y="797.7" width="5" height="21.3" fill="none" stroke="#000" stroke-width="1.1"/>
<rect x="143.1" y="797.7" width="5" height="21.3" fill="none" stroke="#000" stroke-width="1.1"/>
<polyline points="101,819 101,897.7 164.9,897.7 164.9,845.2 300,845.2" fill="none" stroke="#000" stroke-width="1.35" stroke-linecap="butt" stroke-linejoin="miter"/>
<polyline points="123.4,819 123.4,862.5 300,862.5" fill="none" stroke="#000" stroke-width="1.35" stroke-linecap="butt" stroke-linejoin="miter"/>
<polyline points="145.6,819 145.6,879.9 300,879.9" fill="none" stroke="#000" stroke-width="1.35" stroke-linecap="butt" stroke-linejoin="miter"/>
<polyline points="101,841.5 129.7,841.5" fill="none" stroke="#000" stroke-width="1.35" stroke-linecap="butt" stroke-linejoin="miter"/>
<polyline points="129.7,835 129.7,848.5" fill="none" stroke="#000" stroke-width="2.1" stroke-linecap="butt" stroke-linejoin="miter"/>
<polyline points="137.9,835 137.9,848.5" fill="none" stroke="#000" stroke-width="2.1" stroke-linecap="butt" stroke-linejoin="miter"/>
<polyline points="137.9,841.5 145.6,841.5" fill="none" stroke="#000" stroke-width="1.35" stroke-linecap="butt" stroke-linejoin="miter"/>
<circle cx="101" cy="841.5" r="2.6" fill="#000"/>
<circle cx="145.6" cy="841.5" r="2.6" fill="#000"/>
<text x="129.9" y="833.24" font-size="14" text-anchor="middle" style="stroke:none">+</text>
<polyline points="101,862.5 107,862.5" fill="none" stroke="#000" stroke-width="1.35" stroke-linecap="butt" stroke-linejoin="miter"/>
<polyline points="107,856 107,869.4" fill="none" stroke="#000" stroke-width="2.1" stroke-linecap="butt" stroke-linejoin="miter"/>
<polyline points="115.7,856 115.7,869.4" fill="none" stroke="#000" stroke-width="2.1" stroke-linecap="butt" stroke-linejoin="miter"/>
<polyline points="115.7,862.5 123.4,862.5" fill="none" stroke="#000" stroke-width="1.35" stroke-linecap="butt" stroke-linejoin="miter"/>
<circle cx="101" cy="862.5" r="1.6" fill="#000"/>
<circle cx="123.4" cy="862.5" r="2.6" fill="#000"/>
<text x="106.5" y="854.64" font-size="14" text-anchor="middle" style="stroke:none">+</text>
<text transform="translate(0,828.2) scale(0.9000,1)" x="173 183.66 192.25 200.84" y="0" font-size="12.5">C001</text>
<text transform="translate(0,840) scale(0.9000,1)" x="173 182.93 193.12 199.57 209.5 219.43" y="0" font-size="12.5">1μ 50V</text>
<text transform="translate(0,912.9) scale(0.9000,1)" x="109.67 120.59 129.44 138.28" y="0" font-size="12.5">C002</text>
<text transform="translate(0,924.5) scale(0.9000,1)" x="109.67 119.71 130 136.57 146.61 156.66" y="0" font-size="12.5">1μ 50V</text>
<polyline points="164.8,1131.9 164.8,935.5 232.7,935.5 232.7,1131.9" fill="none" stroke="#000" stroke-width="3.8" stroke-linecap="square" stroke-linejoin="miter"/>
<polyline points="164.8,1131.9 232.7,1131.9" fill="none" stroke="#000" stroke-width="3.8" stroke-linecap="square" stroke-linejoin="miter"/>
<ellipse cx="200" cy="1130.4" rx="11.4" ry="6.6" fill="#fff" stroke="#000" stroke-width="1.5"/>
<text transform="translate(0,1121.96) scale(0.9000,1)" x="206.11 216.5 226.27" y="0" font-size="11">GRD</text>
<polyline points="199.8,1137 199.8,1154" fill="none" stroke="#000" stroke-width="1.35" stroke-linecap="butt" stroke-linejoin="miter"/>
<polyline points="189.3,1154 209.5,1154" fill="none" stroke="#000" stroke-width="1.6" stroke-linecap="butt" stroke-linejoin="miter"/>
<polyline points="191.8,1154 186.2,1164.7" fill="none" stroke="#000" stroke-width="1.6" stroke-linecap="butt" stroke-linejoin="miter"/>
<polyline points="200.6,1154 195,1164.7" fill="none" stroke="#000" stroke-width="1.6" stroke-linecap="butt" stroke-linejoin="miter"/>
<polyline points="209.2,1154 203.6,1164.7" fill="none" stroke="#000" stroke-width="1.6" stroke-linecap="butt" stroke-linejoin="miter"/>
<polyline points="153.2,1069.5 142.6,1069.5 142.6,1108 153.2,1108" fill="none" stroke="#000" stroke-width="1.35" stroke-linecap="butt" stroke-linejoin="miter"/>
<text transform="translate(0,1003.9) scale(0.9000,1)" x="193.89 201.54 208.5 215.47 222.43 229.4" y="0" font-size="12.5">T–1919</text>
<text x="213.4" y="1014.3" font-size="12.5" text-anchor="middle">A</text>
<text transform="translate(0,1041.7) scale(0.9000,1)" x="193.89 203.08" y="0" font-size="12.5">AC</text>
<text transform="translate(0,1054) scale(0.9000,1)" x="190.78 199.82 204.7 213.07 222.11 231.86" y="0" font-size="12.5">FILTER</text>
<polyline points="244.3,955.3 272.1,955.3" fill="none" stroke="#000" stroke-width="1.35" stroke-linecap="butt" stroke-linejoin="miter"/>
<polyline points="244.3,976.6 272.1,976.6" fill="none" stroke="#000" stroke-width="1.35" stroke-linecap="butt" stroke-linejoin="miter"/>
<polyline points="244.3,999.6 253.5,999.6 253.5,1011.5 272.1,1011.5" fill="none" stroke="#000" stroke-width="1.35" stroke-linecap="butt" stroke-linejoin="miter"/>
<polyline points="244.3,1030.2 272.1,1030.2" fill="none" stroke="#000" stroke-width="1.35" stroke-linecap="butt" stroke-linejoin="miter"/>
<polyline points="244.3,1051.2 272.1,1051.2" fill="none" stroke="#000" stroke-width="1.35" stroke-linecap="butt" stroke-linejoin="miter"/>
<polyline points="244.3,1072.7 253.5,1072.7 253.5,1086.8 272.1,1086.8" fill="none" stroke="#000" stroke-width="1.35" stroke-linecap="butt" stroke-linejoin="miter"/>
<polyline points="244.3,1107.7 350,1107.7 350,971.8 399.4,971.8" fill="none" stroke="#000" stroke-width="1.35" stroke-linecap="butt" stroke-linejoin="miter"/>
<ellipse cx="164.8" cy="955.5" rx="11.6" ry="6.4" fill="#fff" stroke="#000" stroke-width="1.5"/>
<text x="164.8" y="959.82" font-size="12" text-anchor="middle">F</text>
<ellipse cx="164.8" cy="985.5" rx="11.6" ry="6.4" fill="#fff" stroke="#000" stroke-width="1.5"/>
<text x="164.8" y="989.82" font-size="12" text-anchor="middle">R</text>
<ellipse cx="164.8" cy="1016.5" rx="11.6" ry="6.4" fill="#fff" stroke="#000" stroke-width="1.5"/>
<text x="164.8" y="1020.82" font-size="12" text-anchor="middle">IN</text>
<ellipse cx="164.8" cy="1069.5" rx="11.6" ry="6.4" fill="#fff" stroke="#000" stroke-width="1.5"/>
<text x="164.8" y="1073.82" font-size="12" text-anchor="middle">PS</text>
<ellipse cx="164.8" cy="1108" rx="11.6" ry="6.4" fill="#fff" stroke="#000" stroke-width="1.5"/>
<text x="164.8" y="1112.32" font-size="12" text-anchor="middle">PC</text>
<ellipse cx="232.7" cy="955.3" rx="11.6" ry="6.4" fill="#fff" stroke="#000" stroke-width="1.5"/>
<text x="232.7" y="959.62" font-size="12" text-anchor="middle">3A</text>
<ellipse cx="232.7" cy="976.6" rx="11.6" ry="6.4" fill="#fff" stroke="#000" stroke-width="1.5"/>
<text x="232.7" y="980.92" font-size="12" text-anchor="middle">2A</text>
<ellipse cx="232.7" cy="999.6" rx="11.6" ry="6.4" fill="#fff" stroke="#000" stroke-width="1.5"/>
<text x="232.7" y="1003.92" font-size="12" text-anchor="middle">1A</text>
<ellipse cx="232.7" cy="1030.2" rx="11.6" ry="6.4" fill="#fff" stroke="#000" stroke-width="1.5"/>
<text x="232.7" y="1034.52" font-size="12" text-anchor="middle">3B</text>
<ellipse cx="232.7" cy="1051.2" rx="11.6" ry="6.4" fill="#fff" stroke="#000" stroke-width="1.5"/>
<text x="232.7" y="1055.52" font-size="12" text-anchor="middle">2B</text>
<ellipse cx="232.7" cy="1072.7" rx="11.6" ry="6.4" fill="#fff" stroke="#000" stroke-width="1.5"/>
<text x="232.7" y="1077.02" font-size="12" text-anchor="middle">1B</text>
<ellipse cx="232.7" cy="1107.7" rx="11.6" ry="6.4" fill="#fff" stroke="#000" stroke-width="1.5"/>
<text x="232.7" y="1112.02" font-size="12" text-anchor="middle">5</text>
<path d="M279.5,954.9 H293.6 Q297.3,954.9 297.3,958.6 V1007.8 Q297.3,1011.5 293.6,1011.5 H279.5" fill="none" stroke="#000" stroke-width="1.35"/>
<ellipse cx="291.3" cy="966.8" rx="5.8" ry="3.2" fill="none" stroke="#000" stroke-width="1.2"/>
<ellipse cx="291.3" cy="976.3" rx="5.8" ry="3.2" fill="none" stroke="#000" stroke-width="1.2"/>
<ellipse cx="291.3" cy="985.7" rx="5.8" ry="3.2" fill="none" stroke="#000" stroke-width="1.2"/>
<ellipse cx="291.3" cy="994.2" rx="5.8" ry="3.2" fill="none" stroke="#000" stroke-width="1.2"/>
<ellipse cx="291.3" cy="1002.6" rx="5.8" ry="3.2" fill="none" stroke="#000" stroke-width="1.2"/>
<polyline points="279.5,976.6 285.2,976.6" fill="none" stroke="#000" stroke-width="1.35" stroke-linecap="butt" stroke-linejoin="miter"/>
<circle cx="285.2" cy="976.6" r="2" fill="#000"/>
<path d="M279.5,1030.2 H293.6 Q297.3,1030.2 297.3,1033.9 V1083.1 Q297.3,1086.8 293.6,1086.8 H279.5" fill="none" stroke="#000" stroke-width="1.35"/>
<ellipse cx="291.3" cy="1041.5" rx="5.8" ry="3.2" fill="none" stroke="#000" stroke-width="1.2"/>
<ellipse cx="291.3" cy="1050.5" rx="5.8" ry="3.2" fill="none" stroke="#000" stroke-width="1.2"/>
<ellipse cx="291.3" cy="1059.5" rx="5.8" ry="3.2" fill="none" stroke="#000" stroke-width="1.2"/>
<ellipse cx="291.3" cy="1068.5" rx="5.8" ry="3.2" fill="none" stroke="#000" stroke-width="1.2"/>
<ellipse cx="291.3" cy="1077.5" rx="5.8" ry="3.2" fill="none" stroke="#000" stroke-width="1.2"/>
<polyline points="279.5,1051.2 285.2,1051.2" fill="none" stroke="#000" stroke-width="1.35" stroke-linecap="butt" stroke-linejoin="miter"/>
<circle cx="285.2" cy="1051.2" r="2" fill="#000"/>
<circle cx="275.8" cy="954.9" r="3.7" fill="#fff" stroke="#000" stroke-width="1.2"/>
<circle cx="275.8" cy="976.6" r="3.7" fill="#fff" stroke="#000" stroke-width="1.2"/>
<circle cx="275.8" cy="1011.5" r="3.7" fill="#fff" stroke="#000" stroke-width="1.2"/>
<circle cx="275.8" cy="1030.2" r="3.7" fill="#fff" stroke="#000" stroke-width="1.2"/>
<circle cx="275.8" cy="1051.2" r="3.7" fill="#fff" stroke="#000" stroke-width="1.2"/>
<circle cx="275.8" cy="1086.8" r="3.7" fill="#fff" stroke="#000" stroke-width="1.2"/>
<polyline points="302.9,954.3 302.9,1086.8" fill="none" stroke="#000" stroke-width="1.3" stroke-linecap="butt" stroke-linejoin="miter"/>
<polyline points="306.1,954.3 306.1,1086.8" fill="none" stroke="#000" stroke-width="1.3" stroke-linecap="butt" stroke-linejoin="miter"/>
<path d="M333.6,955.3 H316 Q312.3,955.3 312.3,959 V1026.7 Q312.3,1030.4 316,1030.4 H333.6" fill="none" stroke="#000" stroke-width="1.35"/>
<ellipse cx="318.4" cy="966.8" rx="5.8" ry="3.2" fill="none" stroke="#000" stroke-width="1.2"/>
<ellipse cx="318.4" cy="975.2" rx="5.8" ry="3.2" fill="none" stroke="#000" stroke-width="1.2"/>
<ellipse cx="318.4" cy="983.6" rx="5.8" ry="3.2" fill="none" stroke="#000" stroke-width="1.2"/>
<ellipse cx="318.4" cy="992.6" rx="5.8" ry="3.2" fill="none" stroke="#000" stroke-width="1.2"/>
<ellipse cx="318.4" cy="1001.5" rx="5.8" ry="3.2" fill="none" stroke="#000" stroke-width="1.2"/>
<ellipse cx="318.4" cy="1010.5" rx="5.8" ry="3.2" fill="none" stroke="#000" stroke-width="1.2"/>
<ellipse cx="318.4" cy="1019.4" rx="5.8" ry="3.2" fill="none" stroke="#000" stroke-width="1.2"/>
<polyline points="325.2,993.8 332.5,993.8" fill="none" stroke="#000" stroke-width="1.35" stroke-linecap="butt" stroke-linejoin="miter"/>
<circle cx="325.2" cy="993.8" r="2.1" fill="#000"/>
<circle cx="337.3" cy="955.3" r="3.7" fill="#fff" stroke="#000" stroke-width="1.2"/>
<circle cx="336.2" cy="993.8" r="3.7" fill="#fff" stroke="#000" stroke-width="1.2"/>
<circle cx="337.3" cy="1030.2" r="3.7" fill="#fff" stroke="#000" stroke-width="1.2"/>
<polyline points="341,954.6 399.4,954.6" fill="none" stroke="#000" stroke-width="1.35" stroke-linecap="butt" stroke-linejoin="miter"/>
<polyline points="339.9,993.9 350,993.9" fill="none" stroke="#000" stroke-width="1.35" stroke-linecap="butt" stroke-linejoin="miter"/>
<circle cx="350" cy="994" r="2.2" fill="#000"/>
<polyline points="341,1030.4 364,1030.4 364,988.3 399.4,988.3" fill="none" stroke="#000" stroke-width="1.35" stroke-linecap="butt" stroke-linejoin="miter"/>
<text x="268.4" y="948.16" font-size="11" text-anchor="middle">3</text>
<text x="266.8" y="973.36" font-size="11" text-anchor="middle">2</text>
<text x="266.8" y="1006.96" font-size="11" text-anchor="middle">1</text>
<text x="265.8" y="1026.96" font-size="11" text-anchor="middle">3</text>
<text x="266.5" y="1047.46" font-size="11" text-anchor="middle">2</text>
<text x="268.6" y="1082.46" font-size="11" text-anchor="middle">1</text>
<text x="330" y="948.16" font-size="11" text-anchor="middle">4</text>
<text x="332" y="986.56" font-size="11" text-anchor="middle">5</text>
<text x="331" y="1024.36" font-size="11" text-anchor="middle">6</text>
<text transform="translate(0,1123.5) scale(0.9000,1)" x="318.11 327.77 336.75 345.73" y="0" font-size="12.5">T001</text>
<text transform="translate(0,1135.5) scale(0.9000,1)" x="315.56 325.5 336.15 346.8 357.45 368.1" y="0" font-size="12.5">J–260B</text>
<text transform="translate(0,950.4) scale(0.9000,1)" x="119.33 129.17 137.61 146.06" y="0" font-size="12.5">S001</text>
<polyline points="86.4,963.3 86.4,956.5 107.4,956.5 107.4,969.6" fill="none" stroke="#000" stroke-width="1.35" stroke-linecap="butt" stroke-linejoin="miter"/>
<polyline points="126,969.6 126,956.5 153.4,956.5" fill="none" stroke="#000" stroke-width="1.35" stroke-linecap="butt" stroke-linejoin="miter"/>
<circle cx="107.4" cy="973.3" r="3.7" fill="#fff" stroke="#000" stroke-width="1.2"/>
<circle cx="107.4" cy="998.5" r="3.7" fill="#fff" stroke="#000" stroke-width="1.2"/>
<circle cx="126" cy="973.3" r="3.7" fill="#fff" stroke="#000" stroke-width="1.2"/>
<circle cx="126" cy="998.5" r="3.7" fill="#fff" stroke="#000" stroke-width="1.2"/>
<circle cx="144.4" cy="973.3" r="3.7" fill="#fff" stroke="#000" stroke-width="1.2"/>
<circle cx="144.4" cy="998.5" r="3.7" fill="#fff" stroke="#000" stroke-width="1.2"/>
<rect x="103.2" y="978.4" width="26.1" height="2" fill="none" stroke="#000" stroke-width="1"/>
<rect x="103.2" y="992.2" width="26.1" height="2" fill="none" stroke="#000" stroke-width="1"/>
<polyline points="115.8,980.4 115.8,992.2" fill="none" stroke="#000" stroke-width="1.2" stroke-linecap="butt" stroke-linejoin="miter"/>
<circle cx="86.4" cy="967" r="3.7" fill="#fff" stroke="#000" stroke-width="1.2"/>
<circle cx="85.6" cy="991.3" r="3.7" fill="#fff" stroke="#000" stroke-width="1.2"/>
<path d="M86.4,970.7 q-2.5,2.5 0,5 q2.5,2.5 0,5 q-2.5,2.5 0,5" fill="none" stroke="#000" stroke-width="1.2"/>
<text transform="translate(0,980.2) scale(0.9000,1)" x="60.44 68.25 75.38 82.51" y="0" font-size="12.5">F001</text>
<polyline points="85.6,995 85.6,1008.6 54.4,1008.6" fill="none" stroke="#000" stroke-width="1.35" stroke-linecap="butt" stroke-linejoin="miter"/>
<polyline points="107.4,1002.2 107.4,1018.2 54.4,1018.2" fill="none" stroke="#000" stroke-width="1.35" stroke-linecap="butt" stroke-linejoin="miter"/>
<polyline points="126,1002.2 126,1017 153.4,1017" fill="none" stroke="#000" stroke-width="1.35" stroke-linecap="butt" stroke-linejoin="miter"/>
<path d="M66.5,1004 q-1.5,4 0,8 q1.5,4 0,8" fill="none" stroke="#000" stroke-width="1.1"/>
<path d="M70.5,1004 q-1.5,4 0,8 q1.5,4 0,8" fill="none" stroke="#000" stroke-width="1.1"/>
<path d="M39.3,998.9 H44 Q56,998.9 56,1012.4 Q56,1025.9 44,1025.9 H39.3 Z" fill="#fff" stroke="#000" stroke-width="1.4"/>
<polyline points="31.7,1003.1 39.3,1003.1" fill="none" stroke="#000" stroke-width="1.3" stroke-linecap="butt" stroke-linejoin="miter"/>
<polyline points="31.7,1021.6 39.3,1021.6" fill="none" stroke="#000" stroke-width="1.3" stroke-linecap="butt" stroke-linejoin="miter"/>
<text transform="translate(0,1040.58) scale(0.9000,1)" x="46.44 57.15 66.41 75.67" y="0" font-size="13">P001</text>
<rect x="83" y="1027.5" width="74.1" height="28.2" fill="none" stroke="#000" stroke-width="1.1"/>
<text transform="translate(0,1040.1) scale(0.9000,1)" x="110 119.39 130.17 143.02 152.41" y="0" font-size="12.5">POWER</text>
<text transform="translate(0,1052.2) scale(0.9000,1)" x="99.78 110.3" y="0" font-size="12.5">ON</text>
<text transform="translate(0,1052.2) scale(0.9000,1)" x="144.56 154.9 163.15" y="0" font-size="12.5">OFF</text>
</svg>
</body></html>
